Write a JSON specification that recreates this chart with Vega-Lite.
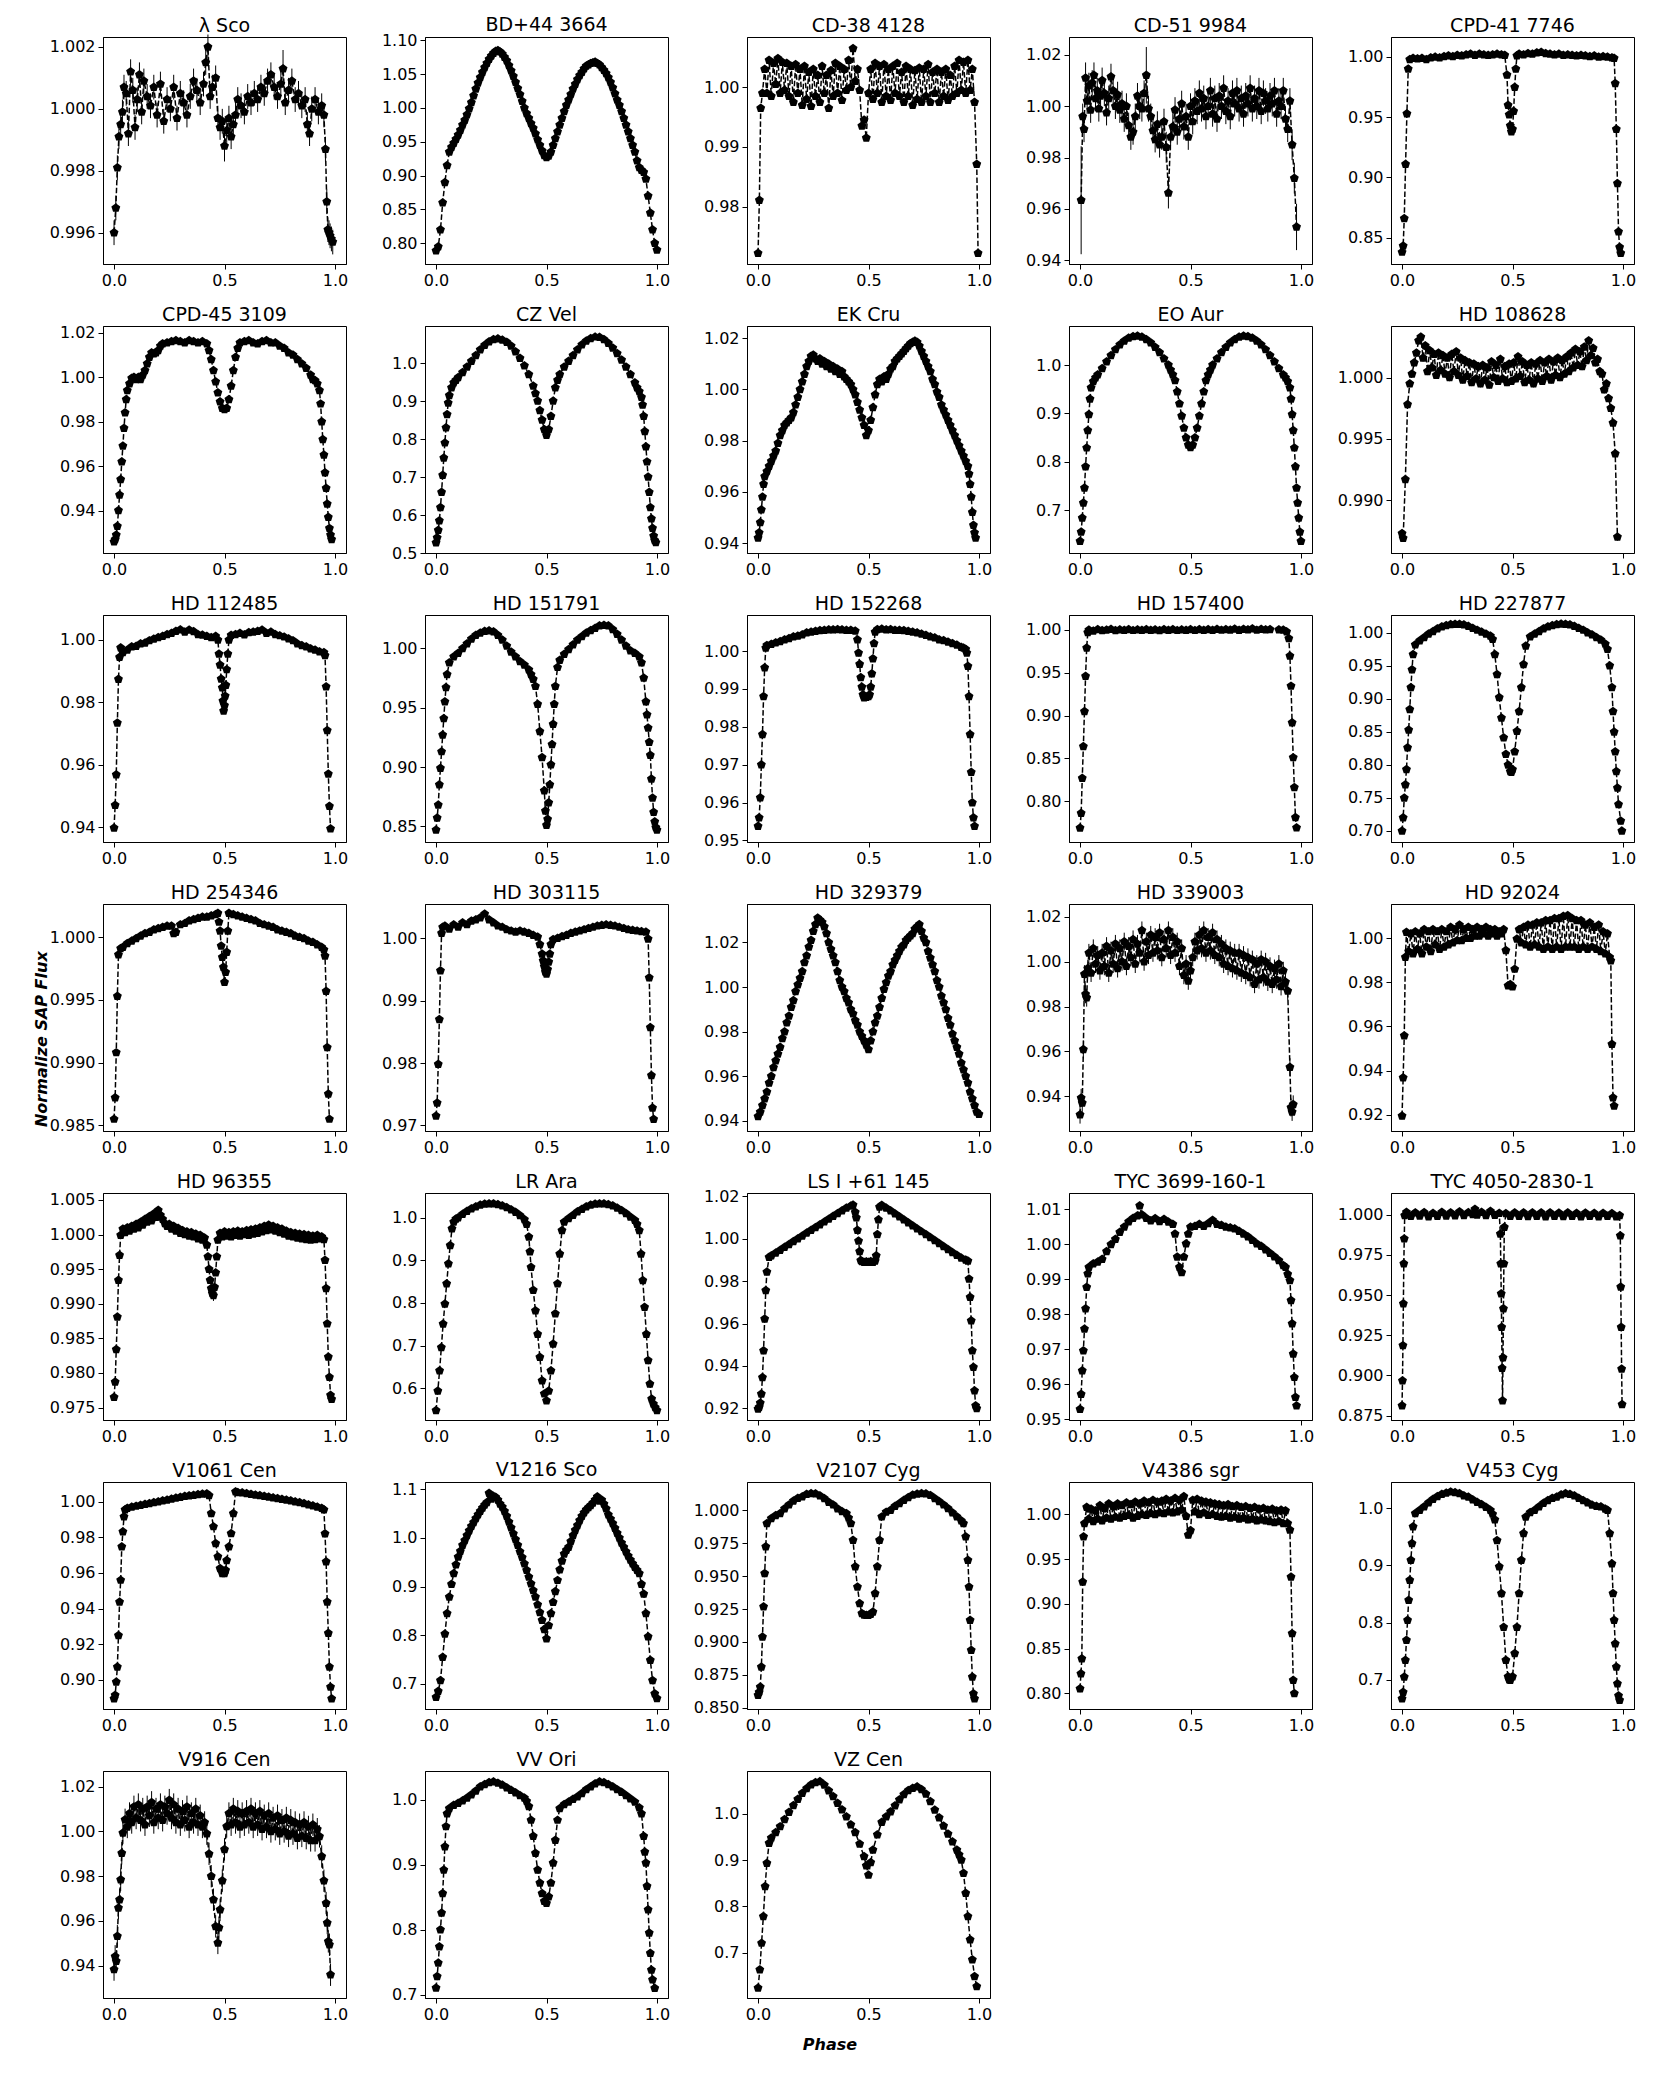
{
"$schema":"https://vega.github.io/schema/vega-lite/v6.json",
"background":"white",
"padding":{"left":33,"top":15,"right":5,"bottom":5},
"title":{"text":"Phase","orient":"bottom","anchor":"middle","fontSize":16,"fontWeight":"bold","fontStyle":"italic","offset":14,"baseline":"top","dx":-5},
"config":{
"font":"DejaVu Sans",
"view":{"stroke":"black","strokeWidth":1,"continuousWidth":243,"continuousHeight":227},
"axis":{"grid":false,"domainColor":"black","domainWidth":1,"tickColor":"black","tickSize":5,"tickWidth":1,"labelFont":"DejaVu Sans","labelFontSize":16,"labelColor":"black","labelPadding":3,"labelFlush":false,"labelOverlap":false},
"title":{"font":"DejaVu Sans","fontSize":19,"fontWeight":"normal","color":"black","offset":1,"baseline":"alphabetic"},
"mark":{"color":"black"},
"line":{"strokeDash":[5.5,2.4],"strokeWidth":1.5},
"point":{"shape":"M0,-1L0.951,-0.309L0.588,0.809L-0.588,0.809L-0.951,-0.309Z","filled":true,"size":88,"opacity":1}
},
"datasets":{
"d1":[{"x":0,"y":0.996,"e":0.0004},{"x":0.008,"y":0.9968,"e":0.0004},{"x":0.015,"y":0.9981,"e":0.0004},{"x":0.022,"y":0.9991,"e":0.0004},{"x":0.03,"y":0.9995,"e":0.0004},{"x":0.038,"y":0.9999,"e":0.0004},{"x":0.045,"y":1.0007,"e":0.0004},{"x":0.055,"y":1.0005,"e":0.0004},{"x":0.065,"y":0.9992,"e":0.0004},{"x":0.075,"y":1.0012,"e":0.0004},{"x":0.085,"y":1.0006,"e":0.0004},{"x":0.095,"y":0.9994,"e":0.0004},{"x":0.105,"y":1.0003,"e":0.0004},{"x":0.115,"y":1.0011,"e":0.0004},{"x":0.125,"y":0.9999,"e":0.0004},{"x":0.135,"y":1.0009,"e":0.0004},{"x":0.15,"y":1.0004,"e":0.0004},{"x":0.165,"y":1.0001,"e":0.0004},{"x":0.18,"y":1.0007,"e":0.0004},{"x":0.195,"y":0.9998,"e":0.0004},{"x":0.21,"y":1.0008,"e":0.0004},{"x":0.225,"y":0.9996,"e":0.0004},{"x":0.24,"y":1.0003,"e":0.0004},{"x":0.255,"y":1.0,"e":0.0004},{"x":0.27,"y":1.0007,"e":0.0004},{"x":0.285,"y":0.9997,"e":0.0004},{"x":0.3,"y":1.0005,"e":0.0004},{"x":0.315,"y":1.0002,"e":0.0004},{"x":0.33,"y":0.9998,"e":0.0004},{"x":0.345,"y":1.0004,"e":0.0004},{"x":0.36,"y":1.0009,"e":0.0004},{"x":0.375,"y":1.0006,"e":0.0004},{"x":0.39,"y":1.0002,"e":0.0004},{"x":0.405,"y":1.0008,"e":0.0004},{"x":0.415,"y":1.0015,"e":0.0004},{"x":0.425,"y":1.002,"e":0.0004},{"x":0.435,"y":1.0004,"e":0.0004},{"x":0.445,"y":1.0007,"e":0.0004},{"x":0.46,"y":1.001,"e":0.0004},{"x":0.47,"y":0.9997,"e":0.0004},{"x":0.48,"y":0.9994,"e":0.0004},{"x":0.49,"y":0.9996,"e":0.0004},{"x":0.5,"y":0.9988,"e":0.0005},{"x":0.51,"y":0.9993,"e":0.0004},{"x":0.52,"y":0.9997,"e":0.0004},{"x":0.53,"y":0.9991,"e":0.0004},{"x":0.54,"y":0.9995,"e":0.0004},{"x":0.55,"y":0.9998,"e":0.0004},{"x":0.56,"y":1.0003,"e":0.0004},{"x":0.575,"y":1.0001,"e":0.0004},{"x":0.59,"y":0.9999,"e":0.0004},{"x":0.605,"y":1.0004,"e":0.0004},{"x":0.62,"y":1.0002,"e":0.0004},{"x":0.635,"y":1.0005,"e":0.0004},{"x":0.65,"y":1.0003,"e":0.0004},{"x":0.665,"y":1.0007,"e":0.0004},{"x":0.68,"y":1.0005,"e":0.0004},{"x":0.695,"y":1.0009,"e":0.0004},{"x":0.71,"y":1.0011,"e":0.0004},{"x":0.725,"y":1.0007,"e":0.0004},{"x":0.74,"y":1.0004,"e":0.0004},{"x":0.755,"y":1.0008,"e":0.0004},{"x":0.765,"y":1.0013,"e":0.0006},{"x":0.775,"y":1.0002,"e":0.0004},{"x":0.79,"y":1.0006,"e":0.0004},{"x":0.805,"y":1.0009,"e":0.0004},{"x":0.82,"y":1.0003,"e":0.0004},{"x":0.835,"y":1.0005,"e":0.0004},{"x":0.85,"y":1.0001,"e":0.0004},{"x":0.865,"y":1.0003,"e":0.0004},{"x":0.875,"y":0.9995,"e":0.0004},{"x":0.885,"y":0.9992,"e":0.0004},{"x":0.895,"y":1.0,"e":0.0004},{"x":0.91,"y":1.0003,"e":0.0004},{"x":0.925,"y":0.9999,"e":0.0004},{"x":0.94,"y":1.0001,"e":0.0004},{"x":0.95,"y":0.9998,"e":0.0004},{"x":0.957,"y":0.9987,"e":0.0004},{"x":0.963,"y":0.997,"e":0.0004},{"x":0.968,"y":0.9961,"e":0.0004},{"x":0.973,"y":0.996,"e":0.0004},{"x":0.978,"y":0.9959,"e":0.0004},{"x":0.984,"y":0.9958,"e":0.0004},{"x":0.99,"y":0.9957,"e":0.0004}],
"d2":[{"x":0,"y":0.789},{"x":0.01,"y":0.795},{"x":0.02,"y":0.82},{"x":0.03,"y":0.86},{"x":0.04,"y":0.89},{"x":0.05,"y":0.915},{"x":0.06,"y":0.935},{"x":0.07,"y":0.942},{"x":0.08,"y":0.948},{"x":0.09,"y":0.954},{"x":0.1,"y":0.96},{"x":0.11,"y":0.967},{"x":0.12,"y":0.975},{"x":0.13,"y":0.982},{"x":0.14,"y":0.99},{"x":0.15,"y":0.999},{"x":0.16,"y":1.008},{"x":0.17,"y":1.018},{"x":0.18,"y":1.028},{"x":0.19,"y":1.037},{"x":0.2,"y":1.045},{"x":0.21,"y":1.053},{"x":0.22,"y":1.06},{"x":0.23,"y":1.066},{"x":0.24,"y":1.072},{"x":0.25,"y":1.077},{"x":0.26,"y":1.081},{"x":0.27,"y":1.084},{"x":0.28,"y":1.085},{"x":0.29,"y":1.083},{"x":0.3,"y":1.08},{"x":0.31,"y":1.075},{"x":0.32,"y":1.07},{"x":0.33,"y":1.063},{"x":0.34,"y":1.055},{"x":0.35,"y":1.047},{"x":0.36,"y":1.038},{"x":0.37,"y":1.029},{"x":0.38,"y":1.02},{"x":0.39,"y":1.01},{"x":0.4,"y":1.0},{"x":0.41,"y":0.992},{"x":0.42,"y":0.985},{"x":0.43,"y":0.977},{"x":0.44,"y":0.97},{"x":0.45,"y":0.962},{"x":0.46,"y":0.953},{"x":0.47,"y":0.945},{"x":0.48,"y":0.937},{"x":0.49,"y":0.93},{"x":0.5,"y":0.927},{"x":0.51,"y":0.929},{"x":0.52,"y":0.935},{"x":0.53,"y":0.945},{"x":0.54,"y":0.955},{"x":0.55,"y":0.965},{"x":0.56,"y":0.975},{"x":0.57,"y":0.985},{"x":0.58,"y":0.995},{"x":0.59,"y":1.004},{"x":0.6,"y":1.012},{"x":0.61,"y":1.02},{"x":0.62,"y":1.028},{"x":0.63,"y":1.035},{"x":0.64,"y":1.042},{"x":0.65,"y":1.048},{"x":0.66,"y":1.053},{"x":0.67,"y":1.058},{"x":0.68,"y":1.062},{"x":0.69,"y":1.064},{"x":0.7,"y":1.066},{"x":0.71,"y":1.067},{"x":0.72,"y":1.068},{"x":0.73,"y":1.066},{"x":0.74,"y":1.064},{"x":0.75,"y":1.06},{"x":0.76,"y":1.056},{"x":0.77,"y":1.051},{"x":0.78,"y":1.045},{"x":0.79,"y":1.038},{"x":0.8,"y":1.03},{"x":0.81,"y":1.021},{"x":0.82,"y":1.012},{"x":0.83,"y":1.004},{"x":0.84,"y":0.995},{"x":0.85,"y":0.985},{"x":0.86,"y":0.975},{"x":0.87,"y":0.965},{"x":0.88,"y":0.955},{"x":0.89,"y":0.945},{"x":0.9,"y":0.935},{"x":0.91,"y":0.922},{"x":0.92,"y":0.912},{"x":0.93,"y":0.908},{"x":0.94,"y":0.905},{"x":0.95,"y":0.895},{"x":0.96,"y":0.87},{"x":0.97,"y":0.845},{"x":0.98,"y":0.82},{"x":0.99,"y":0.8},{"x":1.0,"y":0.79}],
"d3":[{"x":0,"y":0.9722,"e":0.0004},{"x":0.006,"y":0.9811,"e":0.0004},{"x":0.012,"y":0.9965,"e":0.0004},{"x":0.02,"y":0.999,"e":0.0004},{"x":0.03,"y":1.003,"e":0.0004},{"x":0.04,"y":0.999,"e":0.0004},{"x":0.05,"y":1.0045,"e":0.0004},{"x":0.06,"y":0.9985,"e":0.0004},{"x":0.07,"y":1.004,"e":0.0004},{"x":0.08,"y":1.0005,"e":0.0004},{"x":0.09,"y":1.0048,"e":0.0004},{"x":0.1,"y":0.999,"e":0.0004},{"x":0.11,"y":1.0042,"e":0.0004},{"x":0.12,"y":0.9995,"e":0.0004},{"x":0.13,"y":1.004,"e":0.0004},{"x":0.14,"y":0.9985,"e":0.0004},{"x":0.15,"y":1.0035,"e":0.0004},{"x":0.16,"y":0.9975,"e":0.0004},{"x":0.17,"y":1.0038,"e":0.0004},{"x":0.18,"y":0.999,"e":0.0004},{"x":0.19,"y":1.003,"e":0.0004},{"x":0.2,"y":0.997,"e":0.0004},{"x":0.21,"y":1.0035,"e":0.0004},{"x":0.22,"y":0.998,"e":0.0004},{"x":0.23,"y":1.0025,"e":0.0004},{"x":0.24,"y":0.9968,"e":0.0004},{"x":0.25,"y":1.003,"e":0.0004},{"x":0.26,"y":0.9985,"e":0.0004},{"x":0.27,"y":1.002,"e":0.0004},{"x":0.28,"y":0.9975,"e":0.0004},{"x":0.29,"y":1.0035,"e":0.0004},{"x":0.3,"y":0.999,"e":0.0004},{"x":0.31,"y":1.002,"e":0.0004},{"x":0.32,"y":0.9965,"e":0.0004},{"x":0.33,"y":1.0028,"e":0.0004},{"x":0.34,"y":0.9985,"e":0.0004},{"x":0.35,"y":1.004,"e":0.0004},{"x":0.36,"y":0.999,"e":0.0004},{"x":0.37,"y":1.0035,"e":0.0004},{"x":0.38,"y":0.9978,"e":0.0004},{"x":0.39,"y":1.003,"e":0.0004},{"x":0.4,"y":0.9995,"e":0.0004},{"x":0.41,"y":1.0045,"e":0.0004},{"x":0.42,"y":1.0,"e":0.0004},{"x":0.43,"y":1.0065,"e":0.0004},{"x":0.44,"y":1.001,"e":0.0004},{"x":0.45,"y":1.003,"e":0.0004},{"x":0.46,"y":0.9995,"e":0.0004},{"x":0.47,"y":0.9935,"e":0.0004},{"x":0.48,"y":0.9945,"e":0.0004},{"x":0.49,"y":0.9915,"e":0.0004},{"x":0.5,"y":0.999,"e":0.0004},{"x":0.51,"y":1.003,"e":0.0004},{"x":0.52,"y":0.998,"e":0.0004},{"x":0.53,"y":1.004,"e":0.0004},{"x":0.54,"y":0.999,"e":0.0004},{"x":0.55,"y":1.0035,"e":0.0004},{"x":0.56,"y":0.9975,"e":0.0004},{"x":0.57,"y":1.0038,"e":0.0004},{"x":0.58,"y":0.9985,"e":0.0004},{"x":0.59,"y":1.003,"e":0.0004},{"x":0.6,"y":0.9978,"e":0.0004},{"x":0.61,"y":1.0035,"e":0.0004},{"x":0.62,"y":0.999,"e":0.0004},{"x":0.63,"y":1.004,"e":0.0004},{"x":0.64,"y":0.9985,"e":0.0004},{"x":0.65,"y":1.0025,"e":0.0004},{"x":0.66,"y":0.9975,"e":0.0004},{"x":0.67,"y":1.0035,"e":0.0004},{"x":0.68,"y":0.9985,"e":0.0004},{"x":0.69,"y":1.003,"e":0.0004},{"x":0.7,"y":0.997,"e":0.0004},{"x":0.71,"y":1.0028,"e":0.0004},{"x":0.72,"y":0.998,"e":0.0004},{"x":0.73,"y":1.0032,"e":0.0004},{"x":0.74,"y":0.9975,"e":0.0004},{"x":0.75,"y":1.003,"e":0.0004},{"x":0.76,"y":0.9985,"e":0.0004},{"x":0.77,"y":1.0038,"e":0.0004},{"x":0.78,"y":0.9975,"e":0.0004},{"x":0.79,"y":1.0025,"e":0.0004},{"x":0.8,"y":0.999,"e":0.0004},{"x":0.81,"y":1.003,"e":0.0004},{"x":0.82,"y":0.9975,"e":0.0004},{"x":0.83,"y":1.0025,"e":0.0004},{"x":0.84,"y":0.9985,"e":0.0004},{"x":0.85,"y":1.003,"e":0.0004},{"x":0.86,"y":0.9978,"e":0.0004},{"x":0.87,"y":1.002,"e":0.0004},{"x":0.88,"y":0.9985,"e":0.0004},{"x":0.89,"y":1.0035,"e":0.0004},{"x":0.9,"y":0.999,"e":0.0004},{"x":0.91,"y":1.0045,"e":0.0004},{"x":0.92,"y":0.9995,"e":0.0004},{"x":0.93,"y":1.0042,"e":0.0004},{"x":0.94,"y":0.999,"e":0.0004},{"x":0.95,"y":1.0045,"e":0.0004},{"x":0.96,"y":0.9995,"e":0.0004},{"x":0.97,"y":1.003,"e":0.0004},{"x":0.98,"y":0.9975,"e":0.0004},{"x":0.99,"y":0.9871,"e":0.0004},{"x":0.996,"y":0.9722,"e":0.0004}],
"d4":[{"x":0.005,"y":0.9634,"e":0.021},{"x":0.012,"y":0.996,"e":0.005},{"x":0.018,"y":0.991,"e":0.005},{"x":0.025,"y":1.011,"e":0.006},{"x":0.032,"y":1.002,"e":0.005},{"x":0.04,"y":1.008,"e":0.005},{"x":0.048,"y":0.9985,"e":0.005},{"x":0.055,"y":1.009,"e":0.005},{"x":0.063,"y":1.012,"e":0.005},{"x":0.07,"y":1.003,"e":0.005},{"x":0.078,"y":1.006,"e":0.005},{"x":0.085,"y":0.999,"e":0.005},{"x":0.093,"y":1.004,"e":0.005},{"x":0.1,"y":1.01,"e":0.005},{"x":0.11,"y":1.005,"e":0.005},{"x":0.12,"y":0.9975,"e":0.005},{"x":0.13,"y":1.003,"e":0.005},{"x":0.14,"y":1.0115,"e":0.005},{"x":0.15,"y":1.006,"e":0.005},{"x":0.16,"y":1.0,"e":0.005},{"x":0.17,"y":1.0045,"e":0.005},{"x":0.18,"y":0.9985,"e":0.005},{"x":0.19,"y":1.001,"e":0.005},{"x":0.2,"y":0.995,"e":0.005},{"x":0.21,"y":1.0,"e":0.005},{"x":0.22,"y":0.9925,"e":0.005},{"x":0.23,"y":0.988,"e":0.005},{"x":0.24,"y":0.99,"e":0.005},{"x":0.25,"y":0.996,"e":0.005},{"x":0.26,"y":1.004,"e":0.005},{"x":0.27,"y":1.0,"e":0.005},{"x":0.28,"y":0.999,"e":0.005},{"x":0.29,"y":1.005,"e":0.005},{"x":0.3,"y":1.012,"e":0.011},{"x":0.31,"y":0.999,"e":0.005},{"x":0.32,"y":0.996,"e":0.005},{"x":0.33,"y":0.9905,"e":0.005},{"x":0.34,"y":0.987,"e":0.005},{"x":0.35,"y":0.993,"e":0.005},{"x":0.36,"y":0.985,"e":0.005},{"x":0.37,"y":0.988,"e":0.005},{"x":0.38,"y":0.994,"e":0.005},{"x":0.39,"y":0.984,"e":0.006},{"x":0.4,"y":0.9662,"e":0.006},{"x":0.41,"y":0.988,"e":0.005},{"x":0.42,"y":0.992,"e":0.005},{"x":0.43,"y":0.9985,"e":0.005},{"x":0.44,"y":0.99,"e":0.005},{"x":0.45,"y":0.995,"e":0.005},{"x":0.46,"y":1.001,"e":0.005},{"x":0.47,"y":0.992,"e":0.005},{"x":0.48,"y":0.996,"e":0.005},{"x":0.49,"y":0.988,"e":0.005},{"x":0.5,"y":1.0,"e":0.005},{"x":0.51,"y":0.994,"e":0.005},{"x":0.52,"y":1.002,"e":0.005},{"x":0.53,"y":0.998,"e":0.005},{"x":0.54,"y":1.005,"e":0.005},{"x":0.55,"y":0.999,"e":0.005},{"x":0.56,"y":1.003,"e":0.005},{"x":0.57,"y":0.996,"e":0.005},{"x":0.58,"y":1.0,"e":0.005},{"x":0.59,"y":1.006,"e":0.005},{"x":0.6,"y":0.997,"e":0.005},{"x":0.61,"y":1.003,"e":0.005},{"x":0.62,"y":0.995,"e":0.005},{"x":0.63,"y":1.004,"e":0.005},{"x":0.64,"y":1.0,"e":0.005},{"x":0.65,"y":1.007,"e":0.005},{"x":0.66,"y":0.998,"e":0.005},{"x":0.67,"y":1.002,"e":0.005},{"x":0.68,"y":0.996,"e":0.005},{"x":0.69,"y":1.005,"e":0.005},{"x":0.7,"y":1.001,"e":0.005},{"x":0.71,"y":1.006,"e":0.005},{"x":0.72,"y":0.999,"e":0.005},{"x":0.73,"y":1.003,"e":0.005},{"x":0.74,"y":0.997,"e":0.005},{"x":0.75,"y":1.004,"e":0.005},{"x":0.76,"y":1.001,"e":0.005},{"x":0.77,"y":1.007,"e":0.005},{"x":0.78,"y":0.999,"e":0.005},{"x":0.79,"y":1.003,"e":0.005},{"x":0.8,"y":1.0,"e":0.005},{"x":0.81,"y":1.006,"e":0.005},{"x":0.82,"y":0.998,"e":0.005},{"x":0.83,"y":1.005,"e":0.005},{"x":0.84,"y":1.002,"e":0.005},{"x":0.85,"y":0.999,"e":0.005},{"x":0.86,"y":1.004,"e":0.005},{"x":0.87,"y":1.001,"e":0.005},{"x":0.88,"y":1.006,"e":0.005},{"x":0.89,"y":0.997,"e":0.005},{"x":0.9,"y":1.002,"e":0.005},{"x":0.91,"y":1.0,"e":0.005},{"x":0.92,"y":1.006,"e":0.005},{"x":0.93,"y":0.995,"e":0.005},{"x":0.94,"y":0.991,"e":0.005},{"x":0.95,"y":1.002,"e":0.005},{"x":0.96,"y":0.985,"e":0.006},{"x":0.97,"y":0.972,"e":0.006},{"x":0.98,"y":0.953,"e":0.009}],
"d5":[{"x":0,"y":0.838},{"x":0.005,"y":0.843},{"x":0.01,"y":0.866},{"x":0.016,"y":0.911},{"x":0.022,"y":0.953},{"x":0.028,"y":0.99},{"x":0.035,"y":0.998},{"x":0.05,"y":0.999},{"x":0.07,"y":0.9985},{"x":0.09,"y":0.999},{"x":0.11,"y":0.998},{"x":0.13,"y":0.9995},{"x":0.15,"y":1.0},{"x":0.17,"y":0.9995},{"x":0.19,"y":1.0005},{"x":0.21,"y":1.001},{"x":0.23,"y":1.0005},{"x":0.25,"y":1.0015},{"x":0.27,"y":1.001},{"x":0.29,"y":1.002},{"x":0.31,"y":1.0025},{"x":0.33,"y":1.0015},{"x":0.35,"y":1.0025},{"x":0.37,"y":1.002},{"x":0.39,"y":1.0015},{"x":0.41,"y":1.002},{"x":0.43,"y":1.0025},{"x":0.45,"y":1.002},{"x":0.465,"y":1.0015},{"x":0.475,"y":0.985},{"x":0.48,"y":0.96},{"x":0.485,"y":0.952},{"x":0.49,"y":0.943},{"x":0.495,"y":0.938},{"x":0.5,"y":0.94},{"x":0.505,"y":0.955},{"x":0.51,"y":0.975},{"x":0.515,"y":0.99},{"x":0.52,"y":1.001},{"x":0.53,"y":1.0025},{"x":0.55,"y":1.002},{"x":0.57,"y":1.003},{"x":0.59,"y":1.0025},{"x":0.61,"y":1.0035},{"x":0.63,"y":1.004},{"x":0.65,"y":1.003},{"x":0.67,"y":1.0025},{"x":0.69,"y":1.002},{"x":0.71,"y":1.0025},{"x":0.73,"y":1.0015},{"x":0.75,"y":1.002},{"x":0.77,"y":1.0015},{"x":0.79,"y":1.001},{"x":0.81,"y":1.0015},{"x":0.83,"y":1.001},{"x":0.85,"y":1.0005},{"x":0.87,"y":1.001},{"x":0.89,"y":1.0},{"x":0.91,"y":1.0005},{"x":0.93,"y":1.0},{"x":0.95,"y":0.9995},{"x":0.96,"y":0.999},{"x":0.965,"y":0.978},{"x":0.97,"y":0.94},{"x":0.975,"y":0.895},{"x":0.98,"y":0.855},{"x":0.985,"y":0.842},{"x":0.99,"y":0.837}],
"d6":[{"x":0,"y":0.926},{"x":0.005,"y":0.927},{"x":0.01,"y":0.929},{"x":0.015,"y":0.933},{"x":0.02,"y":0.94},{"x":0.025,"y":0.947},{"x":0.03,"y":0.954},{"x":0.035,"y":0.962},{"x":0.04,"y":0.969},{"x":0.045,"y":0.977},{"x":0.05,"y":0.984},{"x":0.055,"y":0.99},{"x":0.06,"y":0.994},{"x":0.07,"y":0.997},{"x":0.08,"y":0.9995},{"x":0.09,"y":1.0},{"x":0.1,"y":0.999},{"x":0.11,"y":1.0},{"x":0.12,"y":0.999},{"x":0.13,"y":1.001},{"x":0.14,"y":1.003},{"x":0.15,"y":1.006},{"x":0.16,"y":1.009},{"x":0.17,"y":1.011},{"x":0.18,"y":1.0105},{"x":0.19,"y":1.011},{"x":0.2,"y":1.012},{"x":0.21,"y":1.014},{"x":0.22,"y":1.015},{"x":0.24,"y":1.0155},{"x":0.26,"y":1.016},{"x":0.28,"y":1.0165},{"x":0.3,"y":1.016},{"x":0.32,"y":1.0155},{"x":0.34,"y":1.0165},{"x":0.36,"y":1.016},{"x":0.38,"y":1.0155},{"x":0.4,"y":1.016},{"x":0.42,"y":1.015},{"x":0.43,"y":1.012},{"x":0.44,"y":1.008},{"x":0.45,"y":1.003},{"x":0.46,"y":0.998},{"x":0.47,"y":0.993},{"x":0.48,"y":0.989},{"x":0.49,"y":0.986},{"x":0.5,"y":0.9855},{"x":0.51,"y":0.986},{"x":0.52,"y":0.99},{"x":0.53,"y":0.996},{"x":0.54,"y":1.003},{"x":0.55,"y":1.009},{"x":0.56,"y":1.013},{"x":0.57,"y":1.0155},{"x":0.59,"y":1.016},{"x":0.61,"y":1.0165},{"x":0.63,"y":1.0155},{"x":0.65,"y":1.015},{"x":0.67,"y":1.016},{"x":0.69,"y":1.0165},{"x":0.71,"y":1.0155},{"x":0.73,"y":1.0155},{"x":0.75,"y":1.014},{"x":0.77,"y":1.013},{"x":0.79,"y":1.011},{"x":0.81,"y":1.01},{"x":0.83,"y":1.008},{"x":0.85,"y":1.006},{"x":0.87,"y":1.004},{"x":0.89,"y":1.001},{"x":0.9,"y":0.999},{"x":0.91,"y":0.9985},{"x":0.92,"y":0.997},{"x":0.93,"y":0.994},{"x":0.935,"y":0.988},{"x":0.94,"y":0.98},{"x":0.945,"y":0.972},{"x":0.95,"y":0.965},{"x":0.955,"y":0.957},{"x":0.96,"y":0.95},{"x":0.965,"y":0.943},{"x":0.97,"y":0.937},{"x":0.975,"y":0.932},{"x":0.98,"y":0.929},{"x":0.985,"y":0.927}],
"d7":[{"x":0,"y":0.527},{"x":0.005,"y":0.54},{"x":0.01,"y":0.56},{"x":0.015,"y":0.585},{"x":0.02,"y":0.62},{"x":0.025,"y":0.66},{"x":0.03,"y":0.705},{"x":0.035,"y":0.75},{"x":0.04,"y":0.79},{"x":0.045,"y":0.83},{"x":0.05,"y":0.865},{"x":0.055,"y":0.895},{"x":0.06,"y":0.915},{"x":0.07,"y":0.935},{"x":0.08,"y":0.948},{"x":0.09,"y":0.955},{"x":0.1,"y":0.962},{"x":0.12,"y":0.975},{"x":0.14,"y":0.99},{"x":0.16,"y":1.005},{"x":0.18,"y":1.02},{"x":0.2,"y":1.035},{"x":0.22,"y":1.047},{"x":0.24,"y":1.056},{"x":0.26,"y":1.062},{"x":0.28,"y":1.064},{"x":0.3,"y":1.061},{"x":0.32,"y":1.055},{"x":0.34,"y":1.045},{"x":0.36,"y":1.03},{"x":0.38,"y":1.013},{"x":0.4,"y":0.993},{"x":0.42,"y":0.97},{"x":0.44,"y":0.94},{"x":0.45,"y":0.92},{"x":0.46,"y":0.9},{"x":0.47,"y":0.875},{"x":0.48,"y":0.85},{"x":0.49,"y":0.825},{"x":0.5,"y":0.81},{"x":0.51,"y":0.825},{"x":0.52,"y":0.86},{"x":0.53,"y":0.9},{"x":0.54,"y":0.935},{"x":0.55,"y":0.955},{"x":0.56,"y":0.97},{"x":0.58,"y":0.99},{"x":0.6,"y":1.005},{"x":0.62,"y":1.02},{"x":0.64,"y":1.035},{"x":0.66,"y":1.048},{"x":0.68,"y":1.058},{"x":0.7,"y":1.065},{"x":0.72,"y":1.069},{"x":0.74,"y":1.068},{"x":0.76,"y":1.062},{"x":0.78,"y":1.052},{"x":0.8,"y":1.04},{"x":0.82,"y":1.025},{"x":0.84,"y":1.008},{"x":0.86,"y":0.99},{"x":0.88,"y":0.97},{"x":0.9,"y":0.948},{"x":0.91,"y":0.935},{"x":0.92,"y":0.925},{"x":0.93,"y":0.91},{"x":0.935,"y":0.89},{"x":0.94,"y":0.86},{"x":0.945,"y":0.82},{"x":0.95,"y":0.78},{"x":0.955,"y":0.74},{"x":0.96,"y":0.7},{"x":0.965,"y":0.66},{"x":0.97,"y":0.62},{"x":0.975,"y":0.59},{"x":0.98,"y":0.565},{"x":0.985,"y":0.545},{"x":0.99,"y":0.533},{"x":0.995,"y":0.528}],
"d8":[{"x":0,"y":0.942},{"x":0.005,"y":0.944},{"x":0.01,"y":0.948},{"x":0.015,"y":0.953},{"x":0.02,"y":0.958},{"x":0.025,"y":0.963},{"x":0.03,"y":0.966},{"x":0.04,"y":0.968},{"x":0.05,"y":0.97},{"x":0.06,"y":0.972},{"x":0.07,"y":0.974},{"x":0.08,"y":0.976},{"x":0.09,"y":0.979},{"x":0.1,"y":0.982},{"x":0.11,"y":0.984},{"x":0.12,"y":0.986},{"x":0.13,"y":0.987},{"x":0.14,"y":0.988},{"x":0.15,"y":0.989},{"x":0.16,"y":0.991},{"x":0.17,"y":0.994},{"x":0.18,"y":0.997},{"x":0.19,"y":1.0},{"x":0.2,"y":1.003},{"x":0.21,"y":1.006},{"x":0.22,"y":1.009},{"x":0.23,"y":1.011},{"x":0.24,"y":1.013},{"x":0.25,"y":1.0135},{"x":0.26,"y":1.012},{"x":0.27,"y":1.011},{"x":0.28,"y":1.012},{"x":0.29,"y":1.01},{"x":0.3,"y":1.011},{"x":0.31,"y":1.009},{"x":0.32,"y":1.01},{"x":0.33,"y":1.008},{"x":0.34,"y":1.009},{"x":0.35,"y":1.007},{"x":0.36,"y":1.008},{"x":0.37,"y":1.006},{"x":0.38,"y":1.007},{"x":0.39,"y":1.005},{"x":0.4,"y":1.004},{"x":0.41,"y":1.003},{"x":0.42,"y":1.002},{"x":0.43,"y":1.0},{"x":0.44,"y":0.998},{"x":0.45,"y":0.995},{"x":0.46,"y":0.992},{"x":0.47,"y":0.989},{"x":0.48,"y":0.986},{"x":0.49,"y":0.982},{"x":0.5,"y":0.984},{"x":0.51,"y":0.988},{"x":0.52,"y":0.993},{"x":0.53,"y":0.998},{"x":0.54,"y":1.002},{"x":0.55,"y":1.004},{"x":0.56,"y":1.003},{"x":0.57,"y":1.005},{"x":0.58,"y":1.004},{"x":0.59,"y":1.006},{"x":0.6,"y":1.008},{"x":0.61,"y":1.009},{"x":0.62,"y":1.011},{"x":0.63,"y":1.012},{"x":0.64,"y":1.013},{"x":0.65,"y":1.014},{"x":0.66,"y":1.015},{"x":0.67,"y":1.016},{"x":0.68,"y":1.017},{"x":0.69,"y":1.018},{"x":0.7,"y":1.0185},{"x":0.71,"y":1.019},{"x":0.72,"y":1.0185},{"x":0.73,"y":1.017},{"x":0.74,"y":1.015},{"x":0.75,"y":1.013},{"x":0.76,"y":1.011},{"x":0.77,"y":1.009},{"x":0.78,"y":1.007},{"x":0.79,"y":1.004},{"x":0.8,"y":1.002},{"x":0.81,"y":0.999},{"x":0.82,"y":0.997},{"x":0.83,"y":0.994},{"x":0.84,"y":0.992},{"x":0.85,"y":0.99},{"x":0.86,"y":0.988},{"x":0.87,"y":0.986},{"x":0.88,"y":0.984},{"x":0.89,"y":0.982},{"x":0.9,"y":0.98},{"x":0.91,"y":0.978},{"x":0.92,"y":0.976},{"x":0.93,"y":0.974},{"x":0.94,"y":0.972},{"x":0.95,"y":0.97},{"x":0.955,"y":0.967},{"x":0.96,"y":0.963},{"x":0.965,"y":0.958},{"x":0.97,"y":0.952},{"x":0.975,"y":0.947},{"x":0.98,"y":0.944},{"x":0.985,"y":0.942}],
"d9":[{"x":0,"y":0.636},{"x":0.005,"y":0.655},{"x":0.01,"y":0.684},{"x":0.015,"y":0.715},{"x":0.02,"y":0.746},{"x":0.025,"y":0.79},{"x":0.03,"y":0.829},{"x":0.035,"y":0.865},{"x":0.04,"y":0.898},{"x":0.045,"y":0.93},{"x":0.05,"y":0.953},{"x":0.06,"y":0.966},{"x":0.07,"y":0.974},{"x":0.08,"y":0.98},{"x":0.1,"y":0.993},{"x":0.12,"y":1.007},{"x":0.14,"y":1.02},{"x":0.16,"y":1.032},{"x":0.18,"y":1.042},{"x":0.2,"y":1.05},{"x":0.22,"y":1.056},{"x":0.24,"y":1.059},{"x":0.26,"y":1.06},{"x":0.28,"y":1.058},{"x":0.3,"y":1.053},{"x":0.32,"y":1.046},{"x":0.34,"y":1.037},{"x":0.36,"y":1.026},{"x":0.38,"y":1.013},{"x":0.4,"y":1.0},{"x":0.41,"y":0.99},{"x":0.42,"y":0.98},{"x":0.43,"y":0.968},{"x":0.44,"y":0.945},{"x":0.45,"y":0.92},{"x":0.46,"y":0.895},{"x":0.47,"y":0.87},{"x":0.48,"y":0.85},{"x":0.49,"y":0.835},{"x":0.5,"y":0.83},{"x":0.51,"y":0.835},{"x":0.52,"y":0.85},{"x":0.53,"y":0.87},{"x":0.54,"y":0.895},{"x":0.55,"y":0.92},{"x":0.56,"y":0.945},{"x":0.57,"y":0.968},{"x":0.58,"y":0.98},{"x":0.59,"y":0.99},{"x":0.6,"y":1.0},{"x":0.62,"y":1.013},{"x":0.64,"y":1.026},{"x":0.66,"y":1.037},{"x":0.68,"y":1.046},{"x":0.7,"y":1.053},{"x":0.72,"y":1.058},{"x":0.74,"y":1.06},{"x":0.76,"y":1.059},{"x":0.78,"y":1.056},{"x":0.8,"y":1.05},{"x":0.82,"y":1.042},{"x":0.84,"y":1.032},{"x":0.86,"y":1.02},{"x":0.88,"y":1.007},{"x":0.9,"y":0.993},{"x":0.92,"y":0.98},{"x":0.93,"y":0.974},{"x":0.94,"y":0.966},{"x":0.95,"y":0.953},{"x":0.955,"y":0.93},{"x":0.96,"y":0.898},{"x":0.965,"y":0.865},{"x":0.97,"y":0.829},{"x":0.975,"y":0.79},{"x":0.98,"y":0.746},{"x":0.985,"y":0.715},{"x":0.99,"y":0.684},{"x":0.995,"y":0.655},{"x":1.0,"y":0.636}],
"d10":[{"x":0,"y":0.9873,"e":0.0003},{"x":0.005,"y":0.9869,"e":0.0003},{"x":0.015,"y":0.9917,"e":0.0003},{"x":0.025,"y":0.9978,"e":0.0003},{"x":0.035,"y":0.9995,"e":0.0003},{"x":0.045,"y":1.0003,"e":0.0003},{"x":0.055,"y":1.0012,"e":0.0003},{"x":0.065,"y":1.002,"e":0.0003},{"x":0.075,"y":1.003,"e":0.0003},{"x":0.085,"y":1.0033,"e":0.0003},{"x":0.095,"y":1.0016,"e":0.0003},{"x":0.105,"y":1.0026,"e":0.0003},{"x":0.115,"y":1.0005,"e":0.0003},{"x":0.125,"y":1.0022,"e":0.0003},{"x":0.135,"y":1.0008,"e":0.0003},{"x":0.145,"y":1.0019,"e":0.0003},{"x":0.155,"y":1.0002,"e":0.0003},{"x":0.165,"y":1.002,"e":0.0003},{"x":0.175,"y":1.0006,"e":0.0003},{"x":0.185,"y":1.0018,"e":0.0003},{"x":0.195,"y":1.0003,"e":0.0003},{"x":0.205,"y":1.0016,"e":0.0003},{"x":0.215,"y":1.0,"e":0.0003},{"x":0.225,"y":1.0019,"e":0.0003},{"x":0.235,"y":1.0005,"e":0.0003},{"x":0.245,"y":1.0021,"e":0.0003},{"x":0.255,"y":1.0002,"e":0.0003},{"x":0.265,"y":1.0016,"e":0.0003},{"x":0.275,"y":0.9998,"e":0.0003},{"x":0.285,"y":1.0014,"e":0.0003},{"x":0.295,"y":1.0001,"e":0.0003},{"x":0.305,"y":1.0012,"e":0.0003},{"x":0.315,"y":0.9996,"e":0.0003},{"x":0.325,"y":1.0011,"e":0.0003},{"x":0.335,"y":0.9999,"e":0.0003},{"x":0.345,"y":1.0009,"e":0.0003},{"x":0.355,"y":0.9995,"e":0.0003},{"x":0.365,"y":1.001,"e":0.0003},{"x":0.375,"y":0.9998,"e":0.0003},{"x":0.385,"y":1.0008,"e":0.0003},{"x":0.395,"y":0.9994,"e":0.0003},{"x":0.405,"y":1.0013,"e":0.0003},{"x":0.415,"y":1.0,"e":0.0003},{"x":0.425,"y":1.001,"e":0.0003},{"x":0.435,"y":0.9997,"e":0.0003},{"x":0.445,"y":1.0015,"e":0.0003},{"x":0.455,"y":0.9999,"e":0.0003},{"x":0.465,"y":1.0009,"e":0.0003},{"x":0.475,"y":0.9996,"e":0.0003},{"x":0.485,"y":1.0011,"e":0.0003},{"x":0.495,"y":0.9997,"e":0.0003},{"x":0.505,"y":1.0012,"e":0.0003},{"x":0.515,"y":0.9999,"e":0.0003},{"x":0.525,"y":1.0017,"e":0.0003},{"x":0.535,"y":1.0001,"e":0.0003},{"x":0.545,"y":1.0013,"e":0.0003},{"x":0.555,"y":0.9996,"e":0.0003},{"x":0.565,"y":1.001,"e":0.0003},{"x":0.575,"y":0.9998,"e":0.0003},{"x":0.585,"y":1.0012,"e":0.0003},{"x":0.595,"y":0.9995,"e":0.0003},{"x":0.605,"y":1.0011,"e":0.0003},{"x":0.615,"y":0.9999,"e":0.0003},{"x":0.625,"y":1.0014,"e":0.0003},{"x":0.635,"y":0.9997,"e":0.0003},{"x":0.645,"y":1.0012,"e":0.0003},{"x":0.655,"y":1.0001,"e":0.0003},{"x":0.665,"y":1.0015,"e":0.0003},{"x":0.675,"y":0.9998,"e":0.0003},{"x":0.685,"y":1.0013,"e":0.0003},{"x":0.695,"y":1.0002,"e":0.0003},{"x":0.705,"y":1.0016,"e":0.0003},{"x":0.715,"y":1.0,"e":0.0003},{"x":0.725,"y":1.0014,"e":0.0003},{"x":0.735,"y":1.0003,"e":0.0003},{"x":0.745,"y":1.0017,"e":0.0003},{"x":0.755,"y":1.0005,"e":0.0003},{"x":0.765,"y":1.002,"e":0.0003},{"x":0.775,"y":1.0008,"e":0.0003},{"x":0.785,"y":1.0023,"e":0.0003},{"x":0.795,"y":1.001,"e":0.0003},{"x":0.805,"y":1.0021,"e":0.0003},{"x":0.815,"y":1.0009,"e":0.0003},{"x":0.825,"y":1.0025,"e":0.0003},{"x":0.835,"y":1.0014,"e":0.0003},{"x":0.845,"y":1.003,"e":0.0003},{"x":0.855,"y":1.0018,"e":0.0003},{"x":0.865,"y":1.0024,"e":0.0003},{"x":0.875,"y":1.0012,"e":0.0003},{"x":0.885,"y":1.0015,"e":0.0003},{"x":0.895,"y":1.0005,"e":0.0003},{"x":0.905,"y":1.0003,"e":0.0003},{"x":0.915,"y":0.999,"e":0.0003},{"x":0.925,"y":0.9995,"e":0.0003},{"x":0.935,"y":0.9983,"e":0.0003},{"x":0.945,"y":0.9975,"e":0.0003},{"x":0.955,"y":0.9963,"e":0.0003},{"x":0.965,"y":0.9938,"e":0.0003},{"x":0.975,"y":0.987,"e":0.0003}],
"d11":[{"x":0,"y":0.9397},{"x":0.005,"y":0.947},{"x":0.01,"y":0.9568},{"x":0.015,"y":0.9734},{"x":0.02,"y":0.9874},{"x":0.025,"y":0.9945},{"x":0.03,"y":0.9975},{"x":0.04,"y":0.996},{"x":0.06,"y":0.9968},{"x":0.08,"y":0.9978},{"x":0.1,"y":0.998},{"x":0.12,"y":0.9988},{"x":0.14,"y":0.999},{"x":0.16,"y":0.9998},{"x":0.18,"y":1.0003},{"x":0.2,"y":1.0008},{"x":0.22,"y":1.0012},{"x":0.24,"y":1.0018},{"x":0.26,"y":1.0022},{"x":0.28,"y":1.0028},{"x":0.3,"y":1.0033},{"x":0.32,"y":1.0026},{"x":0.34,"y":1.0032},{"x":0.36,"y":1.0027},{"x":0.38,"y":1.0018},{"x":0.4,"y":1.0016},{"x":0.42,"y":1.0012},{"x":0.44,"y":1.0008},{"x":0.46,"y":1.0012},{"x":0.47,"y":1.0},{"x":0.475,"y":0.9955},{"x":0.48,"y":0.992},{"x":0.485,"y":0.9875},{"x":0.49,"y":0.9847},{"x":0.493,"y":0.9804},{"x":0.496,"y":0.9772},{"x":0.5,"y":0.979},{"x":0.503,"y":0.982},{"x":0.506,"y":0.9855},{"x":0.51,"y":0.9905},{"x":0.515,"y":0.9955},{"x":0.52,"y":1.0},{"x":0.53,"y":1.0015},{"x":0.55,"y":1.0018},{"x":0.57,"y":1.0022},{"x":0.59,"y":1.0017},{"x":0.61,"y":1.0024},{"x":0.63,"y":1.0026},{"x":0.65,"y":1.0028},{"x":0.67,"y":1.0032},{"x":0.69,"y":1.0022},{"x":0.71,"y":1.0026},{"x":0.73,"y":1.0018},{"x":0.75,"y":1.0014},{"x":0.77,"y":1.001},{"x":0.79,"y":1.0004},{"x":0.81,"y":0.9998},{"x":0.83,"y":0.9988},{"x":0.85,"y":0.9982},{"x":0.87,"y":0.9978},{"x":0.89,"y":0.9972},{"x":0.91,"y":0.9968},{"x":0.93,"y":0.9962},{"x":0.95,"y":0.996},{"x":0.955,"y":0.995},{"x":0.96,"y":0.985},{"x":0.965,"y":0.971},{"x":0.97,"y":0.957},{"x":0.975,"y":0.9467},{"x":0.98,"y":0.9395}],
"d12":[{"x":0,"y":0.847},{"x":0.005,"y":0.857},{"x":0.01,"y":0.868},{"x":0.015,"y":0.885},{"x":0.02,"y":0.899},{"x":0.025,"y":0.913},{"x":0.03,"y":0.927},{"x":0.035,"y":0.941},{"x":0.04,"y":0.955},{"x":0.045,"y":0.967},{"x":0.05,"y":0.978},{"x":0.06,"y":0.988},{"x":0.08,"y":0.993},{"x":0.1,"y":0.996},{"x":0.12,"y":1.0},{"x":0.14,"y":1.004},{"x":0.16,"y":1.008},{"x":0.18,"y":1.011},{"x":0.2,"y":1.013},{"x":0.22,"y":1.0145},{"x":0.24,"y":1.0148},{"x":0.26,"y":1.014},{"x":0.28,"y":1.011},{"x":0.3,"y":1.007},{"x":0.32,"y":1.002},{"x":0.34,"y":0.997},{"x":0.36,"y":0.993},{"x":0.38,"y":0.989},{"x":0.4,"y":0.986},{"x":0.42,"y":0.982},{"x":0.43,"y":0.978},{"x":0.44,"y":0.974},{"x":0.45,"y":0.968},{"x":0.46,"y":0.953},{"x":0.47,"y":0.93},{"x":0.48,"y":0.908},{"x":0.49,"y":0.88},{"x":0.495,"y":0.863},{"x":0.5,"y":0.851},{"x":0.505,"y":0.856},{"x":0.51,"y":0.87},{"x":0.515,"y":0.885},{"x":0.52,"y":0.902},{"x":0.525,"y":0.919},{"x":0.53,"y":0.936},{"x":0.535,"y":0.953},{"x":0.54,"y":0.968},{"x":0.55,"y":0.984},{"x":0.56,"y":0.99},{"x":0.58,"y":0.995},{"x":0.6,"y":0.999},{"x":0.62,"y":1.003},{"x":0.64,"y":1.007},{"x":0.66,"y":1.01},{"x":0.68,"y":1.013},{"x":0.7,"y":1.015},{"x":0.72,"y":1.017},{"x":0.74,"y":1.019},{"x":0.76,"y":1.0195},{"x":0.78,"y":1.019},{"x":0.8,"y":1.016},{"x":0.82,"y":1.012},{"x":0.84,"y":1.007},{"x":0.86,"y":1.002},{"x":0.88,"y":0.998},{"x":0.9,"y":0.996},{"x":0.92,"y":0.993},{"x":0.93,"y":0.988},{"x":0.94,"y":0.975},{"x":0.95,"y":0.955},{"x":0.955,"y":0.944},{"x":0.96,"y":0.933},{"x":0.965,"y":0.921},{"x":0.97,"y":0.91},{"x":0.975,"y":0.89},{"x":0.98,"y":0.874},{"x":0.985,"y":0.862},{"x":0.99,"y":0.854},{"x":0.995,"y":0.849},{"x":1.0,"y":0.847}],
"d13":[{"x":0,"y":0.9538},{"x":0.005,"y":0.956},{"x":0.01,"y":0.9613},{"x":0.015,"y":0.97},{"x":0.02,"y":0.978},{"x":0.025,"y":0.988},{"x":0.03,"y":0.9956},{"x":0.035,"y":1.0008},{"x":0.04,"y":1.0015},{"x":0.06,"y":1.0018},{"x":0.08,"y":1.0022},{"x":0.1,"y":1.0025},{"x":0.12,"y":1.003},{"x":0.14,"y":1.0033},{"x":0.16,"y":1.0038},{"x":0.18,"y":1.004},{"x":0.2,"y":1.0043},{"x":0.22,"y":1.0048},{"x":0.24,"y":1.005},{"x":0.26,"y":1.0052},{"x":0.28,"y":1.0054},{"x":0.3,"y":1.0055},{"x":0.32,"y":1.0056},{"x":0.34,"y":1.0056},{"x":0.36,"y":1.0057},{"x":0.38,"y":1.0056},{"x":0.4,"y":1.0055},{"x":0.42,"y":1.0055},{"x":0.44,"y":1.0053},{"x":0.45,"y":1.003},{"x":0.455,"y":0.9995},{"x":0.46,"y":0.9965},{"x":0.465,"y":0.993},{"x":0.47,"y":0.9905},{"x":0.475,"y":0.9885},{"x":0.48,"y":0.9877},{"x":0.49,"y":0.9878},{"x":0.5,"y":0.988},{"x":0.505,"y":0.9885},{"x":0.51,"y":0.9905},{"x":0.515,"y":0.994},{"x":0.52,"y":0.998},{"x":0.525,"y":1.002},{"x":0.53,"y":1.005},{"x":0.54,"y":1.0057},{"x":0.56,"y":1.0058},{"x":0.58,"y":1.0056},{"x":0.6,"y":1.0057},{"x":0.62,"y":1.0055},{"x":0.64,"y":1.0055},{"x":0.66,"y":1.0054},{"x":0.68,"y":1.0052},{"x":0.7,"y":1.005},{"x":0.72,"y":1.0048},{"x":0.74,"y":1.0045},{"x":0.76,"y":1.0042},{"x":0.78,"y":1.0038},{"x":0.8,"y":1.0035},{"x":0.82,"y":1.003},{"x":0.84,"y":1.0028},{"x":0.86,"y":1.0024},{"x":0.88,"y":1.002},{"x":0.9,"y":1.0016},{"x":0.92,"y":1.001},{"x":0.93,"y":1.0008},{"x":0.94,"y":1.0005},{"x":0.945,"y":0.9995},{"x":0.95,"y":0.996},{"x":0.955,"y":0.988},{"x":0.96,"y":0.978},{"x":0.965,"y":0.968},{"x":0.97,"y":0.96},{"x":0.975,"y":0.956},{"x":0.98,"y":0.9538}],
"d14":[{"x":0,"y":0.7688},{"x":0.005,"y":0.786},{"x":0.01,"y":0.827},{"x":0.015,"y":0.864},{"x":0.02,"y":0.905},{"x":0.025,"y":0.946},{"x":0.03,"y":0.979},{"x":0.035,"y":0.997},{"x":0.04,"y":1.0},{"x":0.06,"y":0.999},{"x":0.08,"y":1.0005},{"x":0.1,"y":0.9995},{"x":0.12,"y":1.0},{"x":0.14,"y":1.0008},{"x":0.16,"y":0.9995},{"x":0.18,"y":1.0003},{"x":0.2,"y":0.9998},{"x":0.22,"y":1.0006},{"x":0.24,"y":0.9996},{"x":0.26,"y":1.0004},{"x":0.28,"y":0.9997},{"x":0.3,"y":1.0007},{"x":0.32,"y":0.9998},{"x":0.34,"y":1.0004},{"x":0.36,"y":0.9995},{"x":0.38,"y":1.0006},{"x":0.4,"y":0.9998},{"x":0.42,"y":1.0005},{"x":0.44,"y":0.9996},{"x":0.46,"y":1.0004},{"x":0.48,"y":0.9998},{"x":0.5,"y":1.0007},{"x":0.52,"y":0.9996},{"x":0.54,"y":1.0005},{"x":0.56,"y":0.9998},{"x":0.58,"y":1.0006},{"x":0.6,"y":0.9997},{"x":0.62,"y":1.0008},{"x":0.64,"y":0.9999},{"x":0.66,"y":1.0006},{"x":0.68,"y":1.0},{"x":0.7,"y":1.0012},{"x":0.72,"y":0.9998},{"x":0.74,"y":1.0008},{"x":0.76,"y":1.0003},{"x":0.78,"y":1.0014},{"x":0.8,"y":0.9999},{"x":0.82,"y":1.0008},{"x":0.84,"y":1.0002},{"x":0.86,"y":1.0006},{"x":0.9,"y":1.0004},{"x":0.92,"y":1.0},{"x":0.935,"y":0.998},{"x":0.945,"y":0.99},{"x":0.95,"y":0.9696},{"x":0.955,"y":0.9345},{"x":0.96,"y":0.8916},{"x":0.965,"y":0.851},{"x":0.97,"y":0.816},{"x":0.975,"y":0.781},{"x":0.98,"y":0.769}],
"d15":[{"x":0,"y":0.7},{"x":0.005,"y":0.72},{"x":0.01,"y":0.75},{"x":0.015,"y":0.77},{"x":0.02,"y":0.793},{"x":0.025,"y":0.826},{"x":0.03,"y":0.853},{"x":0.035,"y":0.884},{"x":0.04,"y":0.917},{"x":0.045,"y":0.944},{"x":0.05,"y":0.967},{"x":0.06,"y":0.982},{"x":0.08,"y":0.988},{"x":0.1,"y":0.993},{"x":0.12,"y":0.998},{"x":0.14,"y":1.002},{"x":0.16,"y":1.006},{"x":0.18,"y":1.009},{"x":0.2,"y":1.011},{"x":0.22,"y":1.0125},{"x":0.24,"y":1.013},{"x":0.26,"y":1.013},{"x":0.28,"y":1.012},{"x":0.3,"y":1.01},{"x":0.32,"y":1.007},{"x":0.34,"y":1.004},{"x":0.36,"y":1.001},{"x":0.38,"y":0.998},{"x":0.4,"y":0.995},{"x":0.41,"y":0.99},{"x":0.42,"y":0.967},{"x":0.43,"y":0.937},{"x":0.44,"y":0.902},{"x":0.45,"y":0.871},{"x":0.46,"y":0.841},{"x":0.47,"y":0.816},{"x":0.48,"y":0.8},{"x":0.49,"y":0.79},{"x":0.495,"y":0.789},{"x":0.5,"y":0.793},{"x":0.51,"y":0.82},{"x":0.52,"y":0.851},{"x":0.53,"y":0.881},{"x":0.54,"y":0.917},{"x":0.55,"y":0.952},{"x":0.56,"y":0.98},{"x":0.58,"y":0.994},{"x":0.6,"y":0.998},{"x":0.62,"y":1.002},{"x":0.64,"y":1.006},{"x":0.66,"y":1.009},{"x":0.68,"y":1.011},{"x":0.7,"y":1.0125},{"x":0.72,"y":1.0132},{"x":0.74,"y":1.013},{"x":0.76,"y":1.012},{"x":0.78,"y":1.01},{"x":0.8,"y":1.007},{"x":0.82,"y":1.004},{"x":0.84,"y":1.0},{"x":0.86,"y":0.997},{"x":0.88,"y":0.993},{"x":0.9,"y":0.989},{"x":0.92,"y":0.983},{"x":0.93,"y":0.975},{"x":0.94,"y":0.95},{"x":0.95,"y":0.917},{"x":0.955,"y":0.881},{"x":0.96,"y":0.85},{"x":0.965,"y":0.82},{"x":0.97,"y":0.79},{"x":0.975,"y":0.765},{"x":0.98,"y":0.74},{"x":0.99,"y":0.715},{"x":0.995,"y":0.7}],
"d16":[{"x":0,"y":0.9855},{"x":0.005,"y":0.9872},{"x":0.01,"y":0.9908},{"x":0.015,"y":0.9953},{"x":0.02,"y":0.9986},{"x":0.03,"y":0.9991},{"x":0.04,"y":0.9992},{"x":0.06,"y":0.9995},{"x":0.08,"y":0.9997},{"x":0.1,"y":0.9999},{"x":0.12,"y":1.0001},{"x":0.14,"y":1.0003},{"x":0.16,"y":1.0004},{"x":0.18,"y":1.0006},{"x":0.2,"y":1.0007},{"x":0.22,"y":1.0008},{"x":0.24,"y":1.0009},{"x":0.26,"y":1.0009},{"x":0.27,"y":1.0003},{"x":0.28,"y":1.0004},{"x":0.3,"y":1.001},{"x":0.32,"y":1.0011},{"x":0.34,"y":1.0013},{"x":0.36,"y":1.0014},{"x":0.38,"y":1.0015},{"x":0.4,"y":1.0016},{"x":0.42,"y":1.0016},{"x":0.44,"y":1.0017},{"x":0.46,"y":1.0018},{"x":0.47,"y":1.0019},{"x":0.475,"y":1.0012},{"x":0.48,"y":1.0005},{"x":0.485,"y":0.9993},{"x":0.49,"y":0.9984},{"x":0.495,"y":0.9976},{"x":0.5,"y":0.9964},{"x":0.505,"y":0.9972},{"x":0.51,"y":0.9988},{"x":0.515,"y":1.0005},{"x":0.52,"y":1.0019},{"x":0.54,"y":1.0018},{"x":0.56,"y":1.0017},{"x":0.58,"y":1.0016},{"x":0.6,"y":1.0015},{"x":0.62,"y":1.0014},{"x":0.64,"y":1.0013},{"x":0.66,"y":1.0011},{"x":0.68,"y":1.001},{"x":0.7,"y":1.0009},{"x":0.72,"y":1.0008},{"x":0.74,"y":1.0006},{"x":0.76,"y":1.0005},{"x":0.78,"y":1.0004},{"x":0.8,"y":1.0003},{"x":0.82,"y":1.0001},{"x":0.84,"y":1.0},{"x":0.86,"y":0.9999},{"x":0.88,"y":0.9997},{"x":0.9,"y":0.9996},{"x":0.92,"y":0.9994},{"x":0.94,"y":0.9992},{"x":0.95,"y":0.999},{"x":0.955,"y":0.9985},{"x":0.96,"y":0.9957},{"x":0.965,"y":0.9912},{"x":0.97,"y":0.9875},{"x":0.975,"y":0.9855}],
"d17":[{"x":0,"y":0.9715},{"x":0.005,"y":0.9736},{"x":0.01,"y":0.9798},{"x":0.015,"y":0.987},{"x":0.02,"y":0.9948},{"x":0.025,"y":1.0008},{"x":0.03,"y":1.0018},{"x":0.04,"y":1.002},{"x":0.06,"y":1.0015},{"x":0.08,"y":1.0022},{"x":0.1,"y":1.0018},{"x":0.12,"y":1.0025},{"x":0.14,"y":1.0022},{"x":0.16,"y":1.0028},{"x":0.18,"y":1.003},{"x":0.2,"y":1.0033},{"x":0.22,"y":1.0039},{"x":0.24,"y":1.003},{"x":0.26,"y":1.0025},{"x":0.28,"y":1.002},{"x":0.3,"y":1.0018},{"x":0.32,"y":1.0014},{"x":0.34,"y":1.0012},{"x":0.36,"y":1.001},{"x":0.38,"y":1.0012},{"x":0.4,"y":1.001},{"x":0.42,"y":1.0008},{"x":0.44,"y":1.0005},{"x":0.46,"y":1.0002},{"x":0.47,"y":0.999},{"x":0.48,"y":0.9975},{"x":0.485,"y":0.9964},{"x":0.49,"y":0.9955},{"x":0.495,"y":0.9946},{"x":0.5,"y":0.9943},{"x":0.505,"y":0.995},{"x":0.51,"y":0.9962},{"x":0.515,"y":0.9975},{"x":0.52,"y":0.999},{"x":0.53,"y":0.9998},{"x":0.55,"y":1.0},{"x":0.57,"y":1.0003},{"x":0.59,"y":1.0005},{"x":0.61,"y":1.0008},{"x":0.63,"y":1.001},{"x":0.65,"y":1.0012},{"x":0.67,"y":1.0014},{"x":0.69,"y":1.0016},{"x":0.71,"y":1.0018},{"x":0.73,"y":1.002},{"x":0.75,"y":1.0021},{"x":0.77,"y":1.0022},{"x":0.79,"y":1.0021},{"x":0.81,"y":1.002},{"x":0.83,"y":1.0018},{"x":0.85,"y":1.0016},{"x":0.87,"y":1.0014},{"x":0.89,"y":1.0013},{"x":0.91,"y":1.0012},{"x":0.93,"y":1.0011},{"x":0.95,"y":1.001},{"x":0.96,"y":0.9999},{"x":0.965,"y":0.9937},{"x":0.97,"y":0.9857},{"x":0.975,"y":0.978},{"x":0.98,"y":0.9728},{"x":0.985,"y":0.971}],
"d18":[{"x":0,"y":0.942},{"x":0.01,"y":0.944},{"x":0.02,"y":0.947},{"x":0.03,"y":0.95},{"x":0.04,"y":0.953},{"x":0.05,"y":0.957},{"x":0.06,"y":0.96},{"x":0.07,"y":0.964},{"x":0.08,"y":0.967},{"x":0.09,"y":0.97},{"x":0.1,"y":0.973},{"x":0.11,"y":0.977},{"x":0.12,"y":0.98},{"x":0.13,"y":0.984},{"x":0.14,"y":0.987},{"x":0.15,"y":0.991},{"x":0.16,"y":0.994},{"x":0.17,"y":0.998},{"x":0.18,"y":1.001},{"x":0.19,"y":1.004},{"x":0.2,"y":1.007},{"x":0.21,"y":1.011},{"x":0.22,"y":1.014},{"x":0.23,"y":1.018},{"x":0.24,"y":1.021},{"x":0.25,"y":1.025},{"x":0.26,"y":1.028},{"x":0.27,"y":1.031},{"x":0.28,"y":1.03},{"x":0.29,"y":1.029},{"x":0.3,"y":1.027},{"x":0.31,"y":1.024},{"x":0.32,"y":1.02},{"x":0.33,"y":1.017},{"x":0.34,"y":1.014},{"x":0.35,"y":1.011},{"x":0.36,"y":1.007},{"x":0.37,"y":1.003},{"x":0.38,"y":1.0},{"x":0.39,"y":0.998},{"x":0.4,"y":0.995},{"x":0.41,"y":0.993},{"x":0.42,"y":0.99},{"x":0.43,"y":0.988},{"x":0.44,"y":0.985},{"x":0.45,"y":0.983},{"x":0.46,"y":0.98},{"x":0.47,"y":0.978},{"x":0.48,"y":0.976},{"x":0.49,"y":0.974},{"x":0.5,"y":0.972},{"x":0.51,"y":0.976},{"x":0.52,"y":0.98},{"x":0.53,"y":0.984},{"x":0.54,"y":0.987},{"x":0.55,"y":0.991},{"x":0.56,"y":0.995},{"x":0.57,"y":0.999},{"x":0.58,"y":1.002},{"x":0.59,"y":1.005},{"x":0.6,"y":1.007},{"x":0.61,"y":1.01},{"x":0.62,"y":1.012},{"x":0.63,"y":1.014},{"x":0.64,"y":1.016},{"x":0.65,"y":1.018},{"x":0.66,"y":1.019},{"x":0.67,"y":1.021},{"x":0.68,"y":1.022},{"x":0.69,"y":1.023},{"x":0.7,"y":1.024},{"x":0.71,"y":1.026},{"x":0.72,"y":1.027},{"x":0.73,"y":1.028},{"x":0.74,"y":1.025},{"x":0.75,"y":1.022},{"x":0.76,"y":1.02},{"x":0.77,"y":1.016},{"x":0.78,"y":1.013},{"x":0.79,"y":1.01},{"x":0.8,"y":1.007},{"x":0.81,"y":1.003},{"x":0.82,"y":1.0},{"x":0.83,"y":0.996},{"x":0.84,"y":0.993},{"x":0.85,"y":0.99},{"x":0.86,"y":0.986},{"x":0.87,"y":0.983},{"x":0.88,"y":0.979},{"x":0.89,"y":0.976},{"x":0.9,"y":0.973},{"x":0.91,"y":0.97},{"x":0.92,"y":0.966},{"x":0.93,"y":0.963},{"x":0.94,"y":0.96},{"x":0.95,"y":0.957},{"x":0.96,"y":0.953},{"x":0.97,"y":0.95},{"x":0.98,"y":0.947},{"x":0.99,"y":0.944},{"x":1.0,"y":0.943}],
"d19":[{"x":0,"y":0.9318,"e":0.004},{"x":0.005,"y":0.9393,"e":0.004},{"x":0.01,"y":0.937,"e":0.004},{"x":0.015,"y":0.9609,"e":0.004},{"x":0.02,"y":0.9945,"e":0.004},{"x":0.025,"y":0.9855,"e":0.004},{"x":0.03,"y":0.984,"e":0.004},{"x":0.035,"y":0.997,"e":0.004},{"x":0.04,"y":1.004,"e":0.004},{"x":0.05,"y":0.995,"e":0.004},{"x":0.06,"y":1.006,"e":0.004},{"x":0.07,"y":0.999,"e":0.004},{"x":0.08,"y":1.003,"e":0.004},{"x":0.09,"y":0.996,"e":0.004},{"x":0.1,"y":1.004,"e":0.004},{"x":0.11,"y":0.998,"e":0.004},{"x":0.12,"y":1.007,"e":0.004},{"x":0.13,"y":0.995,"e":0.004},{"x":0.14,"y":1.005,"e":0.004},{"x":0.15,"y":0.999,"e":0.004},{"x":0.16,"y":1.008,"e":0.004},{"x":0.17,"y":0.997,"e":0.004},{"x":0.18,"y":1.006,"e":0.004},{"x":0.19,"y":1.0,"e":0.004},{"x":0.2,"y":1.009,"e":0.004},{"x":0.21,"y":0.998,"e":0.004},{"x":0.22,"y":1.007,"e":0.004},{"x":0.23,"y":1.002,"e":0.004},{"x":0.24,"y":1.01,"e":0.004},{"x":0.25,"y":0.999,"e":0.004},{"x":0.26,"y":1.008,"e":0.004},{"x":0.27,"y":1.004,"e":0.004},{"x":0.28,"y":1.014,"e":0.004},{"x":0.29,"y":1.0,"e":0.004},{"x":0.3,"y":1.009,"e":0.004},{"x":0.31,"y":1.003,"e":0.004},{"x":0.32,"y":1.012,"e":0.004},{"x":0.33,"y":1.004,"e":0.004},{"x":0.34,"y":1.011,"e":0.004},{"x":0.35,"y":1.005,"e":0.004},{"x":0.36,"y":1.013,"e":0.004},{"x":0.37,"y":1.002,"e":0.004},{"x":0.38,"y":1.01,"e":0.004},{"x":0.39,"y":1.006,"e":0.004},{"x":0.4,"y":1.014,"e":0.004},{"x":0.41,"y":1.003,"e":0.004},{"x":0.42,"y":1.011,"e":0.004},{"x":0.43,"y":1.004,"e":0.004},{"x":0.44,"y":1.009,"e":0.004},{"x":0.45,"y":0.998,"e":0.004},{"x":0.46,"y":1.006,"e":0.004},{"x":0.47,"y":0.994,"e":0.004},{"x":0.48,"y":0.999,"e":0.004},{"x":0.49,"y":0.9915,"e":0.004},{"x":0.5,"y":0.996,"e":0.004},{"x":0.51,"y":1.002,"e":0.004},{"x":0.52,"y":1.009,"e":0.004},{"x":0.53,"y":1.005,"e":0.004},{"x":0.54,"y":1.012,"e":0.004},{"x":0.55,"y":1.006,"e":0.004},{"x":0.56,"y":1.014,"e":0.004},{"x":0.57,"y":1.004,"e":0.004},{"x":0.58,"y":1.011,"e":0.004},{"x":0.59,"y":1.005,"e":0.004},{"x":0.6,"y":1.013,"e":0.004},{"x":0.61,"y":1.003,"e":0.004},{"x":0.62,"y":1.01,"e":0.004},{"x":0.63,"y":1.002,"e":0.004},{"x":0.64,"y":1.008,"e":0.004},{"x":0.65,"y":0.999,"e":0.004},{"x":0.66,"y":1.006,"e":0.004},{"x":0.67,"y":0.998,"e":0.004},{"x":0.68,"y":1.005,"e":0.004},{"x":0.69,"y":0.997,"e":0.004},{"x":0.7,"y":1.004,"e":0.004},{"x":0.71,"y":0.996,"e":0.004},{"x":0.72,"y":1.004,"e":0.004},{"x":0.73,"y":0.995,"e":0.004},{"x":0.74,"y":1.003,"e":0.004},{"x":0.75,"y":0.994,"e":0.004},{"x":0.76,"y":1.002,"e":0.004},{"x":0.77,"y":0.993,"e":0.004},{"x":0.78,"y":1.001,"e":0.004},{"x":0.79,"y":0.99,"e":0.004},{"x":0.8,"y":0.999,"e":0.004},{"x":0.81,"y":0.992,"e":0.004},{"x":0.82,"y":1.001,"e":0.004},{"x":0.83,"y":0.993,"e":0.004},{"x":0.84,"y":1.0,"e":0.004},{"x":0.85,"y":0.991,"e":0.004},{"x":0.86,"y":0.998,"e":0.004},{"x":0.87,"y":0.99,"e":0.004},{"x":0.88,"y":0.997,"e":0.004},{"x":0.89,"y":0.992,"e":0.004},{"x":0.9,"y":0.999,"e":0.004},{"x":0.91,"y":0.989,"e":0.004},{"x":0.92,"y":0.996,"e":0.004},{"x":0.93,"y":0.991,"e":0.004},{"x":0.94,"y":0.987,"e":0.004},{"x":0.95,"y":0.953,"e":0.004},{"x":0.955,"y":0.935,"e":0.004},{"x":0.96,"y":0.933,"e":0.004},{"x":0.965,"y":0.9364,"e":0.004}],
"d20":[{"x":0,"y":0.9194,"e":0.0015},{"x":0.005,"y":0.9368,"e":0.0015},{"x":0.01,"y":0.9558,"e":0.0015},{"x":0.015,"y":0.9914,"e":0.0015},{"x":0.02,"y":1.0027,"e":0.0015},{"x":0.03,"y":0.994,"e":0.0015},{"x":0.04,"y":1.002,"e":0.0015},{"x":0.05,"y":0.993,"e":0.0015},{"x":0.06,"y":1.003,"e":0.0015},{"x":0.07,"y":0.995,"e":0.0015},{"x":0.08,"y":1.002,"e":0.0015},{"x":0.09,"y":0.993,"e":0.0015},{"x":0.1,"y":1.004,"e":0.0015},{"x":0.11,"y":0.996,"e":0.0015},{"x":0.12,"y":1.003,"e":0.0015},{"x":0.13,"y":0.994,"e":0.0015},{"x":0.14,"y":1.004,"e":0.0015},{"x":0.15,"y":0.997,"e":0.0015},{"x":0.16,"y":1.003,"e":0.0015},{"x":0.17,"y":0.995,"e":0.0015},{"x":0.18,"y":1.004,"e":0.0015},{"x":0.19,"y":0.996,"e":0.0015},{"x":0.2,"y":1.003,"e":0.0015},{"x":0.21,"y":0.997,"e":0.0015},{"x":0.22,"y":1.005,"e":0.0015},{"x":0.23,"y":0.998,"e":0.0015},{"x":0.24,"y":1.004,"e":0.0015},{"x":0.25,"y":0.999,"e":0.0015},{"x":0.26,"y":1.006,"e":0.0015},{"x":0.27,"y":0.999,"e":0.0015},{"x":0.28,"y":1.004,"e":0.0015},{"x":0.29,"y":1.0,"e":0.0015},{"x":0.3,"y":1.005,"e":0.0015},{"x":0.31,"y":1.0,"e":0.0015},{"x":0.32,"y":1.004,"e":0.0015},{"x":0.33,"y":1.001,"e":0.0015},{"x":0.34,"y":1.005,"e":0.0015},{"x":0.35,"y":1.001,"e":0.0015},{"x":0.36,"y":1.004,"e":0.0015},{"x":0.37,"y":1.002,"e":0.0015},{"x":0.38,"y":1.005,"e":0.0015},{"x":0.39,"y":1.001,"e":0.0015},{"x":0.4,"y":1.004,"e":0.0015},{"x":0.41,"y":1.002,"e":0.0015},{"x":0.42,"y":1.004,"e":0.0015},{"x":0.43,"y":1.001,"e":0.0015},{"x":0.44,"y":1.003,"e":0.0015},{"x":0.45,"y":1.002,"e":0.0015},{"x":0.46,"y":1.004,"e":0.0015},{"x":0.47,"y":0.9944,"e":0.0015},{"x":0.48,"y":0.9785,"e":0.0015},{"x":0.49,"y":0.979,"e":0.0015},{"x":0.5,"y":0.978,"e":0.0015},{"x":0.51,"y":0.986,"e":0.0015},{"x":0.52,"y":0.9997,"e":0.0015},{"x":0.53,"y":1.004,"e":0.0015},{"x":0.54,"y":0.998,"e":0.0015},{"x":0.55,"y":1.005,"e":0.0015},{"x":0.56,"y":0.997,"e":0.0015},{"x":0.57,"y":1.006,"e":0.0015},{"x":0.58,"y":0.996,"e":0.0015},{"x":0.59,"y":1.006,"e":0.0015},{"x":0.6,"y":0.997,"e":0.0015},{"x":0.61,"y":1.007,"e":0.0015},{"x":0.62,"y":0.996,"e":0.0015},{"x":0.63,"y":1.007,"e":0.0015},{"x":0.64,"y":0.995,"e":0.0015},{"x":0.65,"y":1.008,"e":0.0015},{"x":0.66,"y":0.996,"e":0.0015},{"x":0.67,"y":1.008,"e":0.0015},{"x":0.68,"y":0.995,"e":0.0015},{"x":0.69,"y":1.009,"e":0.0015},{"x":0.7,"y":0.996,"e":0.0015},{"x":0.71,"y":1.009,"e":0.0015},{"x":0.72,"y":0.995,"e":0.0015},{"x":0.73,"y":1.01,"e":0.0015},{"x":0.74,"y":0.996,"e":0.0015},{"x":0.75,"y":1.0103,"e":0.0015},{"x":0.76,"y":0.996,"e":0.0015},{"x":0.77,"y":1.009,"e":0.0015},{"x":0.78,"y":0.996,"e":0.0015},{"x":0.79,"y":1.008,"e":0.0015},{"x":0.8,"y":0.995,"e":0.0015},{"x":0.81,"y":1.008,"e":0.0015},{"x":0.82,"y":0.996,"e":0.0015},{"x":0.83,"y":1.006,"e":0.0015},{"x":0.84,"y":0.995,"e":0.0015},{"x":0.85,"y":1.007,"e":0.0015},{"x":0.86,"y":0.996,"e":0.0015},{"x":0.87,"y":1.005,"e":0.0015},{"x":0.88,"y":0.995,"e":0.0015},{"x":0.89,"y":1.006,"e":0.0015},{"x":0.9,"y":0.994,"e":0.0015},{"x":0.91,"y":1.003,"e":0.0015},{"x":0.92,"y":0.993,"e":0.0015},{"x":0.93,"y":1.002,"e":0.0015},{"x":0.94,"y":0.9914,"e":0.0015},{"x":0.945,"y":0.9898,"e":0.0015},{"x":0.95,"y":0.952,"e":0.0015},{"x":0.955,"y":0.9277,"e":0.0015},{"x":0.96,"y":0.924,"e":0.0015}],
"d21":[{"x":0,"y":0.9765,"e":0.0004},{"x":0.005,"y":0.9787,"e":0.0004},{"x":0.01,"y":0.9834,"e":0.0004},{"x":0.015,"y":0.9881,"e":0.0004},{"x":0.02,"y":0.9934,"e":0.0004},{"x":0.025,"y":0.997,"e":0.0004},{"x":0.03,"y":0.9999,"e":0.0004},{"x":0.04,"y":1.0008,"e":0.0004},{"x":0.05,"y":1.0003,"e":0.0004},{"x":0.06,"y":1.001,"e":0.0004},{"x":0.07,"y":1.0005,"e":0.0004},{"x":0.08,"y":1.0012,"e":0.0004},{"x":0.09,"y":1.0008,"e":0.0004},{"x":0.1,"y":1.0015,"e":0.0004},{"x":0.11,"y":1.001,"e":0.0004},{"x":0.12,"y":1.0018,"e":0.0004},{"x":0.13,"y":1.0014,"e":0.0004},{"x":0.14,"y":1.0022,"e":0.0004},{"x":0.15,"y":1.0018,"e":0.0004},{"x":0.16,"y":1.0026,"e":0.0004},{"x":0.17,"y":1.002,"e":0.0004},{"x":0.18,"y":1.003,"e":0.0004},{"x":0.19,"y":1.0025,"e":0.0004},{"x":0.2,"y":1.0035,"e":0.0004},{"x":0.21,"y":1.0028,"e":0.0004},{"x":0.22,"y":1.0022,"e":0.0004},{"x":0.23,"y":1.0016,"e":0.0004},{"x":0.24,"y":1.0012,"e":0.0004},{"x":0.25,"y":1.0015,"e":0.0004},{"x":0.26,"y":1.0008,"e":0.0004},{"x":0.27,"y":1.0012,"e":0.0004},{"x":0.28,"y":1.0005,"e":0.0004},{"x":0.29,"y":1.0009,"e":0.0004},{"x":0.3,"y":1.0002,"e":0.0004},{"x":0.31,"y":1.0006,"e":0.0004},{"x":0.32,"y":1.0,"e":0.0004},{"x":0.33,"y":1.0004,"e":0.0004},{"x":0.34,"y":0.9998,"e":0.0004},{"x":0.35,"y":1.0003,"e":0.0004},{"x":0.36,"y":0.9997,"e":0.0004},{"x":0.37,"y":1.0001,"e":0.0004},{"x":0.38,"y":0.9994,"e":0.0004},{"x":0.39,"y":0.9999,"e":0.0004},{"x":0.4,"y":0.9992,"e":0.0004},{"x":0.41,"y":0.9995,"e":0.0004},{"x":0.42,"y":0.9985,"e":0.0004},{"x":0.425,"y":0.9968,"e":0.0004},{"x":0.43,"y":0.995,"e":0.0004},{"x":0.435,"y":0.9934,"e":0.0004},{"x":0.44,"y":0.9922,"e":0.0004},{"x":0.445,"y":0.9915,"e":0.0004},{"x":0.45,"y":0.9912,"e":0.0008},{"x":0.455,"y":0.9924,"e":0.0004},{"x":0.46,"y":0.9945,"e":0.0004},{"x":0.465,"y":0.9968,"e":0.0004},{"x":0.47,"y":0.9992,"e":0.0004},{"x":0.48,"y":1.0002,"e":0.0004},{"x":0.49,"y":0.9997,"e":0.0004},{"x":0.5,"y":1.0004,"e":0.0004},{"x":0.51,"y":0.9998,"e":0.0004},{"x":0.52,"y":1.0003,"e":0.0004},{"x":0.53,"y":0.9997,"e":0.0004},{"x":0.54,"y":1.0004,"e":0.0004},{"x":0.55,"y":0.9999,"e":0.0004},{"x":0.56,"y":1.0005,"e":0.0004},{"x":0.57,"y":0.9998,"e":0.0004},{"x":0.58,"y":1.0004,"e":0.0004},{"x":0.59,"y":1.0,"e":0.0004},{"x":0.6,"y":1.0006,"e":0.0004},{"x":0.61,"y":0.9999,"e":0.0004},{"x":0.62,"y":1.0007,"e":0.0004},{"x":0.63,"y":1.0001,"e":0.0004},{"x":0.64,"y":1.0008,"e":0.0004},{"x":0.65,"y":1.0002,"e":0.0004},{"x":0.66,"y":1.001,"e":0.0004},{"x":0.67,"y":1.0004,"e":0.0004},{"x":0.68,"y":1.0012,"e":0.0004},{"x":0.69,"y":1.0006,"e":0.0004},{"x":0.7,"y":1.0014,"e":0.0004},{"x":0.71,"y":1.0007,"e":0.0004},{"x":0.72,"y":1.0012,"e":0.0004},{"x":0.73,"y":1.0005,"e":0.0004},{"x":0.74,"y":1.001,"e":0.0004},{"x":0.75,"y":1.0003,"e":0.0004},{"x":0.76,"y":1.0008,"e":0.0004},{"x":0.77,"y":1.0001,"e":0.0004},{"x":0.78,"y":1.0005,"e":0.0004},{"x":0.79,"y":0.9998,"e":0.0004},{"x":0.8,"y":1.0003,"e":0.0004},{"x":0.81,"y":0.9997,"e":0.0004},{"x":0.82,"y":1.0002,"e":0.0004},{"x":0.83,"y":0.9995,"e":0.0004},{"x":0.84,"y":1.0001,"e":0.0004},{"x":0.85,"y":0.9994,"e":0.0004},{"x":0.86,"y":1.0,"e":0.0004},{"x":0.87,"y":0.9993,"e":0.0004},{"x":0.88,"y":0.9999,"e":0.0004},{"x":0.89,"y":0.9992,"e":0.0004},{"x":0.9,"y":0.9998,"e":0.0004},{"x":0.91,"y":0.9993,"e":0.0004},{"x":0.92,"y":0.9999,"e":0.0004},{"x":0.93,"y":0.9994,"e":0.0004},{"x":0.94,"y":0.9997,"e":0.0004},{"x":0.95,"y":0.9993,"e":0.0004},{"x":0.955,"y":0.9963,"e":0.0004},{"x":0.96,"y":0.9922,"e":0.0004},{"x":0.965,"y":0.9871,"e":0.0004},{"x":0.97,"y":0.9823,"e":0.0004},{"x":0.975,"y":0.9794,"e":0.0004},{"x":0.98,"y":0.9768,"e":0.0004},{"x":0.985,"y":0.9762,"e":0.0004}],
"d22":[{"x":0,"y":0.548},{"x":0.008,"y":0.594},{"x":0.016,"y":0.641},{"x":0.024,"y":0.696},{"x":0.032,"y":0.751},{"x":0.04,"y":0.798},{"x":0.048,"y":0.845},{"x":0.056,"y":0.892},{"x":0.064,"y":0.935},{"x":0.072,"y":0.974},{"x":0.08,"y":0.99},{"x":0.09,"y":0.997},{"x":0.1,"y":1.0},{"x":0.12,"y":1.008},{"x":0.14,"y":1.015},{"x":0.16,"y":1.021},{"x":0.18,"y":1.026},{"x":0.2,"y":1.03},{"x":0.22,"y":1.032},{"x":0.24,"y":1.033},{"x":0.26,"y":1.033},{"x":0.28,"y":1.031},{"x":0.3,"y":1.028},{"x":0.32,"y":1.024},{"x":0.34,"y":1.019},{"x":0.36,"y":1.013},{"x":0.38,"y":1.005},{"x":0.4,"y":0.996},{"x":0.41,"y":0.985},{"x":0.42,"y":0.955},{"x":0.425,"y":0.92},{"x":0.43,"y":0.884},{"x":0.44,"y":0.83},{"x":0.45,"y":0.782},{"x":0.46,"y":0.727},{"x":0.47,"y":0.673},{"x":0.48,"y":0.618},{"x":0.49,"y":0.587},{"x":0.5,"y":0.571},{"x":0.51,"y":0.594},{"x":0.52,"y":0.641},{"x":0.53,"y":0.704},{"x":0.54,"y":0.775},{"x":0.55,"y":0.845},{"x":0.56,"y":0.915},{"x":0.57,"y":0.97},{"x":0.58,"y":0.99},{"x":0.6,"y":0.998},{"x":0.62,"y":1.006},{"x":0.64,"y":1.014},{"x":0.66,"y":1.02},{"x":0.68,"y":1.026},{"x":0.7,"y":1.03},{"x":0.72,"y":1.032},{"x":0.74,"y":1.033},{"x":0.76,"y":1.033},{"x":0.78,"y":1.031},{"x":0.8,"y":1.028},{"x":0.82,"y":1.023},{"x":0.84,"y":1.017},{"x":0.86,"y":1.01},{"x":0.88,"y":1.002},{"x":0.9,"y":0.994},{"x":0.91,"y":0.985},{"x":0.92,"y":0.97},{"x":0.928,"y":0.915},{"x":0.936,"y":0.853},{"x":0.944,"y":0.79},{"x":0.952,"y":0.727},{"x":0.96,"y":0.665},{"x":0.968,"y":0.61},{"x":0.976,"y":0.575},{"x":0.984,"y":0.563},{"x":0.992,"y":0.555},{"x":1.0,"y":0.548}],
"d23":[{"x":0,"y":0.9197},{"x":0.005,"y":0.9205},{"x":0.01,"y":0.9225},{"x":0.015,"y":0.9268},{"x":0.02,"y":0.9346},{"x":0.025,"y":0.9472},{"x":0.03,"y":0.9622},{"x":0.035,"y":0.9756},{"x":0.04,"y":0.9843},{"x":0.05,"y":0.9913},{"x":0.06,"y":0.992},{"x":0.08,"y":0.9933},{"x":0.1,"y":0.9946},{"x":0.12,"y":0.996},{"x":0.14,"y":0.9973},{"x":0.16,"y":0.9987},{"x":0.18,"y":1.0},{"x":0.2,"y":1.0013},{"x":0.22,"y":1.0027},{"x":0.24,"y":1.004},{"x":0.26,"y":1.0053},{"x":0.28,"y":1.0066},{"x":0.3,"y":1.008},{"x":0.32,"y":1.0093},{"x":0.34,"y":1.0106},{"x":0.36,"y":1.0119},{"x":0.38,"y":1.0132},{"x":0.4,"y":1.0145},{"x":0.42,"y":1.0155},{"x":0.43,"y":1.016},{"x":0.44,"y":1.0125},{"x":0.445,"y":1.01},{"x":0.45,"y":1.004},{"x":0.455,"y":0.999},{"x":0.46,"y":0.994},{"x":0.465,"y":0.9898},{"x":0.47,"y":0.9893},{"x":0.48,"y":0.989},{"x":0.49,"y":0.9892},{"x":0.5,"y":0.989},{"x":0.51,"y":0.9893},{"x":0.52,"y":0.989},{"x":0.53,"y":0.9895},{"x":0.535,"y":0.992},{"x":0.54,"y":1.002},{"x":0.545,"y":1.009},{"x":0.55,"y":1.015},{"x":0.56,"y":1.0158},{"x":0.58,"y":1.0145},{"x":0.6,"y":1.0132},{"x":0.62,"y":1.0118},{"x":0.64,"y":1.0104},{"x":0.66,"y":1.009},{"x":0.68,"y":1.0076},{"x":0.7,"y":1.0062},{"x":0.72,"y":1.0048},{"x":0.74,"y":1.0034},{"x":0.76,"y":1.002},{"x":0.78,"y":1.0006},{"x":0.8,"y":0.9992},{"x":0.82,"y":0.9978},{"x":0.84,"y":0.9964},{"x":0.86,"y":0.995},{"x":0.88,"y":0.9936},{"x":0.9,"y":0.9922},{"x":0.92,"y":0.991},{"x":0.94,"y":0.99},{"x":0.95,"y":0.9895},{"x":0.955,"y":0.981},{"x":0.96,"y":0.9724},{"x":0.965,"y":0.9614},{"x":0.97,"y":0.9472},{"x":0.975,"y":0.9394},{"x":0.98,"y":0.9283},{"x":0.985,"y":0.9213},{"x":0.99,"y":0.92}],
"d24":[{"x":0,"y":0.9529},{"x":0.005,"y":0.9572},{"x":0.01,"y":0.9639},{"x":0.015,"y":0.9696},{"x":0.02,"y":0.9758},{"x":0.025,"y":0.9816},{"x":0.03,"y":0.9878},{"x":0.035,"y":0.9916},{"x":0.04,"y":0.9935},{"x":0.06,"y":0.9945},{"x":0.08,"y":0.995},{"x":0.1,"y":0.9958},{"x":0.12,"y":0.998},{"x":0.14,"y":1.0},{"x":0.16,"y":1.0015},{"x":0.18,"y":1.0035},{"x":0.2,"y":1.005},{"x":0.22,"y":1.0065},{"x":0.24,"y":1.0075},{"x":0.26,"y":1.0082},{"x":0.27,"y":1.0111},{"x":0.28,"y":1.0085},{"x":0.3,"y":1.0075},{"x":0.32,"y":1.0068},{"x":0.34,"y":1.0074},{"x":0.36,"y":1.0066},{"x":0.38,"y":1.0072},{"x":0.4,"y":1.0064},{"x":0.42,"y":1.0058},{"x":0.43,"y":1.003},{"x":0.44,"y":0.9964},{"x":0.45,"y":0.9935},{"x":0.46,"y":0.992},{"x":0.47,"y":0.9964},{"x":0.48,"y":1.0002},{"x":0.49,"y":1.003},{"x":0.5,"y":1.005},{"x":0.52,"y":1.0052},{"x":0.54,"y":1.0058},{"x":0.56,"y":1.0052},{"x":0.58,"y":1.006},{"x":0.6,"y":1.0069},{"x":0.62,"y":1.0058},{"x":0.64,"y":1.0055},{"x":0.66,"y":1.005},{"x":0.68,"y":1.0048},{"x":0.7,"y":1.0045},{"x":0.72,"y":1.0038},{"x":0.74,"y":1.003},{"x":0.76,"y":1.0022},{"x":0.78,"y":1.0012},{"x":0.8,"y":1.0002},{"x":0.82,"y":0.9995},{"x":0.84,"y":0.9985},{"x":0.86,"y":0.9975},{"x":0.88,"y":0.9965},{"x":0.9,"y":0.9954},{"x":0.92,"y":0.994},{"x":0.93,"y":0.9935},{"x":0.94,"y":0.9915},{"x":0.95,"y":0.9897},{"x":0.955,"y":0.984},{"x":0.96,"y":0.9773},{"x":0.965,"y":0.9687},{"x":0.97,"y":0.962},{"x":0.975,"y":0.9563},{"x":0.98,"y":0.9539}],
"d25":[{"x":0,"y":0.8812},{"x":0.002,"y":0.8967},{"x":0.004,"y":0.9186},{"x":0.006,"y":0.9446},{"x":0.008,"y":0.9695},{"x":0.01,"y":0.985},{"x":0.012,"y":0.9996},{"x":0.02,"y":1.0015},{"x":0.04,"y":0.999},{"x":0.06,"y":1.0012},{"x":0.08,"y":0.9992},{"x":0.1,"y":1.0014},{"x":0.12,"y":0.9988},{"x":0.14,"y":1.001},{"x":0.16,"y":0.999},{"x":0.18,"y":1.0016},{"x":0.2,"y":0.9992},{"x":0.22,"y":1.0012},{"x":0.24,"y":0.9994},{"x":0.26,"y":1.0018},{"x":0.28,"y":0.9996},{"x":0.3,"y":1.0014},{"x":0.32,"y":1.0001},{"x":0.33,"y":1.0035},{"x":0.34,"y":0.9998},{"x":0.36,"y":1.0016},{"x":0.38,"y":0.9995},{"x":0.4,"y":1.0022},{"x":0.42,"y":0.9997},{"x":0.44,"y":1.001},{"x":0.445,"y":0.988},{"x":0.447,"y":0.9695},{"x":0.449,"y":0.9508},{"x":0.451,"y":0.93},{"x":0.453,"y":0.9045},{"x":0.455,"y":0.8843},{"x":0.457,"y":0.911},{"x":0.459,"y":0.9415},{"x":0.461,"y":0.9695},{"x":0.463,"y":0.9923},{"x":0.47,"y":1.0008},{"x":0.49,"y":0.999},{"x":0.51,"y":1.0012},{"x":0.53,"y":0.999},{"x":0.55,"y":1.0013},{"x":0.57,"y":0.9989},{"x":0.59,"y":1.0012},{"x":0.61,"y":0.999},{"x":0.63,"y":1.0013},{"x":0.65,"y":0.9988},{"x":0.67,"y":1.0012},{"x":0.69,"y":0.9991},{"x":0.71,"y":1.0011},{"x":0.73,"y":0.9989},{"x":0.75,"y":1.0012},{"x":0.77,"y":0.999},{"x":0.79,"y":1.001},{"x":0.81,"y":0.9988},{"x":0.83,"y":1.0011},{"x":0.85,"y":0.999},{"x":0.87,"y":1.001},{"x":0.89,"y":0.9988},{"x":0.91,"y":1.0009},{"x":0.93,"y":0.999},{"x":0.95,"y":1.0008},{"x":0.97,"y":0.9988},{"x":0.985,"y":0.9995},{"x":0.988,"y":0.987},{"x":0.99,"y":0.955},{"x":0.992,"y":0.93},{"x":0.994,"y":0.904},{"x":0.996,"y":0.882}],
"d26":[{"x":0,"y":0.8895},{"x":0.005,"y":0.8914},{"x":0.01,"y":0.8989},{"x":0.015,"y":0.9073},{"x":0.02,"y":0.925},{"x":0.025,"y":0.9438},{"x":0.03,"y":0.956},{"x":0.035,"y":0.9747},{"x":0.04,"y":0.9831},{"x":0.045,"y":0.9916},{"x":0.05,"y":0.9955},{"x":0.06,"y":0.9963},{"x":0.08,"y":0.997},{"x":0.1,"y":0.9975},{"x":0.12,"y":0.998},{"x":0.14,"y":0.9986},{"x":0.16,"y":0.999},{"x":0.18,"y":0.9995},{"x":0.2,"y":1.0},{"x":0.22,"y":1.0005},{"x":0.24,"y":1.001},{"x":0.26,"y":1.0015},{"x":0.28,"y":1.002},{"x":0.3,"y":1.0025},{"x":0.32,"y":1.003},{"x":0.34,"y":1.0033},{"x":0.36,"y":1.0036},{"x":0.38,"y":1.004},{"x":0.4,"y":1.0043},{"x":0.42,"y":1.0045},{"x":0.43,"y":1.0035},{"x":0.44,"y":0.9934},{"x":0.45,"y":0.986},{"x":0.46,"y":0.9766},{"x":0.47,"y":0.9691},{"x":0.48,"y":0.9625},{"x":0.49,"y":0.9597},{"x":0.5,"y":0.9597},{"x":0.505,"y":0.9616},{"x":0.51,"y":0.967},{"x":0.52,"y":0.9747},{"x":0.53,"y":0.9822},{"x":0.54,"y":0.9934},{"x":0.55,"y":1.0056},{"x":0.56,"y":1.0052},{"x":0.58,"y":1.005},{"x":0.6,"y":1.0046},{"x":0.62,"y":1.0042},{"x":0.64,"y":1.0038},{"x":0.66,"y":1.0034},{"x":0.68,"y":1.003},{"x":0.7,"y":1.0026},{"x":0.72,"y":1.0022},{"x":0.74,"y":1.0018},{"x":0.76,"y":1.0014},{"x":0.78,"y":1.001},{"x":0.8,"y":1.0005},{"x":0.82,"y":1.0},{"x":0.84,"y":0.9995},{"x":0.86,"y":0.999},{"x":0.88,"y":0.9983},{"x":0.9,"y":0.9977},{"x":0.92,"y":0.997},{"x":0.94,"y":0.9963},{"x":0.95,"y":0.9955},{"x":0.955,"y":0.982},{"x":0.96,"y":0.9663},{"x":0.965,"y":0.9438},{"x":0.97,"y":0.9262},{"x":0.975,"y":0.9073},{"x":0.98,"y":0.896},{"x":0.985,"y":0.8895}],
"d27":[{"x":0,"y":0.673},{"x":0.01,"y":0.685},{"x":0.02,"y":0.707},{"x":0.03,"y":0.755},{"x":0.04,"y":0.803},{"x":0.05,"y":0.845},{"x":0.06,"y":0.879},{"x":0.07,"y":0.905},{"x":0.08,"y":0.927},{"x":0.09,"y":0.945},{"x":0.1,"y":0.961},{"x":0.11,"y":0.973},{"x":0.12,"y":0.985},{"x":0.13,"y":0.995},{"x":0.14,"y":1.005},{"x":0.15,"y":1.015},{"x":0.16,"y":1.024},{"x":0.17,"y":1.032},{"x":0.18,"y":1.04},{"x":0.19,"y":1.048},{"x":0.2,"y":1.055},{"x":0.21,"y":1.062},{"x":0.22,"y":1.068},{"x":0.23,"y":1.073},{"x":0.24,"y":1.092},{"x":0.25,"y":1.08},{"x":0.26,"y":1.086},{"x":0.27,"y":1.084},{"x":0.28,"y":1.078},{"x":0.29,"y":1.07},{"x":0.3,"y":1.064},{"x":0.31,"y":1.055},{"x":0.32,"y":1.045},{"x":0.33,"y":1.033},{"x":0.34,"y":1.021},{"x":0.35,"y":1.009},{"x":0.36,"y":0.997},{"x":0.37,"y":0.985},{"x":0.38,"y":0.972},{"x":0.39,"y":0.96},{"x":0.4,"y":0.947},{"x":0.41,"y":0.934},{"x":0.42,"y":0.92},{"x":0.43,"y":0.906},{"x":0.44,"y":0.892},{"x":0.45,"y":0.879},{"x":0.46,"y":0.863},{"x":0.47,"y":0.847},{"x":0.48,"y":0.831},{"x":0.49,"y":0.812},{"x":0.5,"y":0.793},{"x":0.51,"y":0.82},{"x":0.52,"y":0.845},{"x":0.53,"y":0.868},{"x":0.54,"y":0.89},{"x":0.55,"y":0.913},{"x":0.56,"y":0.935},{"x":0.57,"y":0.953},{"x":0.58,"y":0.967},{"x":0.59,"y":0.975},{"x":0.6,"y":0.981},{"x":0.61,"y":0.993},{"x":0.62,"y":1.005},{"x":0.63,"y":1.016},{"x":0.64,"y":1.026},{"x":0.65,"y":1.036},{"x":0.66,"y":1.045},{"x":0.67,"y":1.052},{"x":0.68,"y":1.058},{"x":0.69,"y":1.063},{"x":0.7,"y":1.067},{"x":0.71,"y":1.072},{"x":0.72,"y":1.078},{"x":0.73,"y":1.085},{"x":0.74,"y":1.076},{"x":0.75,"y":1.078},{"x":0.76,"y":1.07},{"x":0.77,"y":1.06},{"x":0.78,"y":1.048},{"x":0.79,"y":1.039},{"x":0.8,"y":1.03},{"x":0.81,"y":1.02},{"x":0.82,"y":1.01},{"x":0.83,"y":1.0},{"x":0.84,"y":0.99},{"x":0.85,"y":0.981},{"x":0.86,"y":0.972},{"x":0.87,"y":0.963},{"x":0.88,"y":0.955},{"x":0.89,"y":0.947},{"x":0.9,"y":0.94},{"x":0.91,"y":0.934},{"x":0.92,"y":0.927},{"x":0.93,"y":0.905},{"x":0.94,"y":0.885},{"x":0.95,"y":0.845},{"x":0.96,"y":0.797},{"x":0.97,"y":0.749},{"x":0.98,"y":0.707},{"x":0.99,"y":0.68},{"x":1.0,"y":0.67}],
"d28":[{"x":0,"y":0.8596},{"x":0.005,"y":0.862},{"x":0.01,"y":0.866},{"x":0.015,"y":0.881},{"x":0.02,"y":0.9039},{"x":0.025,"y":0.9267},{"x":0.03,"y":0.9519},{"x":0.035,"y":0.9722},{"x":0.04,"y":0.9899},{"x":0.06,"y":0.9937},{"x":0.08,"y":0.996},{"x":0.1,"y":0.9975},{"x":0.12,"y":1.001},{"x":0.14,"y":1.004},{"x":0.16,"y":1.007},{"x":0.18,"y":1.009},{"x":0.2,"y":1.0101},{"x":0.22,"y":1.012},{"x":0.24,"y":1.0127},{"x":0.26,"y":1.0125},{"x":0.28,"y":1.011},{"x":0.3,"y":1.0089},{"x":0.32,"y":1.006},{"x":0.34,"y":1.004},{"x":0.36,"y":1.001},{"x":0.38,"y":0.999},{"x":0.4,"y":0.9975},{"x":0.41,"y":0.994},{"x":0.42,"y":0.9899},{"x":0.43,"y":0.9772},{"x":0.44,"y":0.957},{"x":0.45,"y":0.9418},{"x":0.46,"y":0.9292},{"x":0.47,"y":0.9216},{"x":0.48,"y":0.9205},{"x":0.49,"y":0.9203},{"x":0.5,"y":0.9203},{"x":0.51,"y":0.921},{"x":0.52,"y":0.9228},{"x":0.53,"y":0.9368},{"x":0.54,"y":0.957},{"x":0.55,"y":0.9772},{"x":0.56,"y":0.9949},{"x":0.58,"y":0.9985},{"x":0.6,"y":1.0},{"x":0.62,"y":1.003},{"x":0.64,"y":1.005},{"x":0.66,"y":1.0075},{"x":0.68,"y":1.0095},{"x":0.7,"y":1.0114},{"x":0.72,"y":1.0122},{"x":0.74,"y":1.0127},{"x":0.76,"y":1.0125},{"x":0.78,"y":1.0112},{"x":0.8,"y":1.0089},{"x":0.82,"y":1.0065},{"x":0.84,"y":1.004},{"x":0.86,"y":1.0012},{"x":0.88,"y":0.998},{"x":0.9,"y":0.995},{"x":0.92,"y":0.992},{"x":0.93,"y":0.9899},{"x":0.94,"y":0.9798},{"x":0.95,"y":0.962},{"x":0.955,"y":0.9418},{"x":0.96,"y":0.9165},{"x":0.965,"y":0.8937},{"x":0.97,"y":0.8735},{"x":0.975,"y":0.8608},{"x":0.98,"y":0.857}],
"d29":[{"x":0,"y":0.8052,"e":0.004},{"x":0.004,"y":0.822,"e":0.004},{"x":0.008,"y":0.8388,"e":0.004},{"x":0.012,"y":0.9246,"e":0.004},{"x":0.016,"y":0.975,"e":0.004},{"x":0.02,"y":0.99,"e":0.004},{"x":0.03,"y":1.008,"e":0.004},{"x":0.04,"y":0.995,"e":0.004},{"x":0.05,"y":1.006,"e":0.004},{"x":0.06,"y":0.992,"e":0.004},{"x":0.07,"y":1.004,"e":0.004},{"x":0.08,"y":0.995,"e":0.004},{"x":0.09,"y":1.01,"e":0.004},{"x":0.1,"y":0.993,"e":0.004},{"x":0.11,"y":1.007,"e":0.004},{"x":0.12,"y":0.996,"e":0.004},{"x":0.13,"y":1.012,"e":0.004},{"x":0.14,"y":0.995,"e":0.004},{"x":0.15,"y":1.009,"e":0.004},{"x":0.16,"y":0.997,"e":0.004},{"x":0.17,"y":1.012,"e":0.004},{"x":0.18,"y":0.996,"e":0.004},{"x":0.19,"y":1.01,"e":0.004},{"x":0.2,"y":0.998,"e":0.004},{"x":0.21,"y":1.013,"e":0.004},{"x":0.22,"y":0.999,"e":0.004},{"x":0.23,"y":1.011,"e":0.004},{"x":0.24,"y":0.996,"e":0.004},{"x":0.25,"y":1.014,"e":0.004},{"x":0.26,"y":0.998,"e":0.004},{"x":0.27,"y":1.012,"e":0.004},{"x":0.28,"y":1.0,"e":0.004},{"x":0.29,"y":1.015,"e":0.004},{"x":0.3,"y":0.999,"e":0.004},{"x":0.31,"y":1.013,"e":0.004},{"x":0.32,"y":1.001,"e":0.004},{"x":0.33,"y":1.016,"e":0.004},{"x":0.34,"y":1.0,"e":0.004},{"x":0.35,"y":1.014,"e":0.004},{"x":0.36,"y":1.002,"e":0.004},{"x":0.37,"y":1.015,"e":0.004},{"x":0.38,"y":1.001,"e":0.004},{"x":0.39,"y":1.017,"e":0.004},{"x":0.4,"y":1.003,"e":0.004},{"x":0.41,"y":1.015,"e":0.004},{"x":0.42,"y":1.002,"e":0.004},{"x":0.43,"y":1.018,"e":0.004},{"x":0.44,"y":1.003,"e":0.004},{"x":0.45,"y":1.016,"e":0.004},{"x":0.46,"y":1.005,"e":0.004},{"x":0.47,"y":1.02,"e":0.004},{"x":0.48,"y":0.998,"e":0.004},{"x":0.49,"y":0.9769,"e":0.004},{"x":0.5,"y":0.982,"e":0.004},{"x":0.51,"y":1.016,"e":0.004},{"x":0.52,"y":1.003,"e":0.004},{"x":0.53,"y":1.017,"e":0.004},{"x":0.54,"y":1.0,"e":0.004},{"x":0.55,"y":1.015,"e":0.004},{"x":0.56,"y":1.002,"e":0.004},{"x":0.57,"y":1.014,"e":0.004},{"x":0.58,"y":0.999,"e":0.004},{"x":0.59,"y":1.013,"e":0.004},{"x":0.6,"y":1.0,"e":0.004},{"x":0.61,"y":1.012,"e":0.004},{"x":0.62,"y":0.998,"e":0.004},{"x":0.63,"y":1.011,"e":0.004},{"x":0.64,"y":0.997,"e":0.004},{"x":0.65,"y":1.01,"e":0.004},{"x":0.66,"y":0.998,"e":0.004},{"x":0.67,"y":1.011,"e":0.004},{"x":0.68,"y":0.996,"e":0.004},{"x":0.69,"y":1.009,"e":0.004},{"x":0.7,"y":0.997,"e":0.004},{"x":0.71,"y":1.01,"e":0.004},{"x":0.72,"y":0.995,"e":0.004},{"x":0.73,"y":1.008,"e":0.004},{"x":0.74,"y":0.996,"e":0.004},{"x":0.75,"y":1.009,"e":0.004},{"x":0.76,"y":0.994,"e":0.004},{"x":0.77,"y":1.007,"e":0.004},{"x":0.78,"y":0.995,"e":0.004},{"x":0.79,"y":1.008,"e":0.004},{"x":0.8,"y":0.993,"e":0.004},{"x":0.81,"y":1.006,"e":0.004},{"x":0.82,"y":0.994,"e":0.004},{"x":0.83,"y":1.007,"e":0.004},{"x":0.84,"y":0.993,"e":0.004},{"x":0.85,"y":1.005,"e":0.004},{"x":0.86,"y":0.992,"e":0.004},{"x":0.87,"y":1.006,"e":0.004},{"x":0.88,"y":0.991,"e":0.004},{"x":0.89,"y":1.004,"e":0.004},{"x":0.9,"y":0.992,"e":0.004},{"x":0.91,"y":1.005,"e":0.004},{"x":0.92,"y":0.99,"e":0.004},{"x":0.93,"y":1.004,"e":0.004},{"x":0.94,"y":0.99,"e":0.004},{"x":0.95,"y":0.9825,"e":0.004},{"x":0.955,"y":0.93,"e":0.004},{"x":0.96,"y":0.8668,"e":0.004},{"x":0.965,"y":0.8146,"e":0.004},{"x":0.97,"y":0.8,"e":0.004}],
"d30":[{"x":0,"y":0.6667},{"x":0.005,"y":0.678},{"x":0.01,"y":0.7047},{"x":0.015,"y":0.734},{"x":0.02,"y":0.769},{"x":0.025,"y":0.804},{"x":0.03,"y":0.839},{"x":0.035,"y":0.874},{"x":0.04,"y":0.909},{"x":0.045,"y":0.9386},{"x":0.05,"y":0.968},{"x":0.06,"y":0.991},{"x":0.08,"y":0.997},{"x":0.1,"y":1.003},{"x":0.12,"y":1.01},{"x":0.14,"y":1.016},{"x":0.16,"y":1.021},{"x":0.18,"y":1.025},{"x":0.2,"y":1.027},{"x":0.22,"y":1.029},{"x":0.24,"y":1.028},{"x":0.26,"y":1.026},{"x":0.28,"y":1.022},{"x":0.3,"y":1.02},{"x":0.32,"y":1.015},{"x":0.34,"y":1.011},{"x":0.36,"y":1.007},{"x":0.38,"y":1.002},{"x":0.4,"y":0.997},{"x":0.41,"y":0.99},{"x":0.42,"y":0.98},{"x":0.43,"y":0.944},{"x":0.44,"y":0.898},{"x":0.45,"y":0.851},{"x":0.46,"y":0.792},{"x":0.47,"y":0.734},{"x":0.48,"y":0.705},{"x":0.485,"y":0.7},{"x":0.49,"y":0.699},{"x":0.5,"y":0.705},{"x":0.51,"y":0.746},{"x":0.52,"y":0.792},{"x":0.53,"y":0.851},{"x":0.54,"y":0.909},{"x":0.55,"y":0.956},{"x":0.56,"y":0.985},{"x":0.58,"y":0.993},{"x":0.6,"y":0.997},{"x":0.62,"y":1.003},{"x":0.64,"y":1.009},{"x":0.66,"y":1.014},{"x":0.68,"y":1.018},{"x":0.7,"y":1.02},{"x":0.72,"y":1.024},{"x":0.74,"y":1.026},{"x":0.76,"y":1.025},{"x":0.78,"y":1.022},{"x":0.8,"y":1.018},{"x":0.82,"y":1.014},{"x":0.84,"y":1.01},{"x":0.86,"y":1.006},{"x":0.88,"y":1.004},{"x":0.9,"y":1.003},{"x":0.92,"y":0.999},{"x":0.93,"y":0.997},{"x":0.94,"y":0.956},{"x":0.95,"y":0.903},{"x":0.955,"y":0.851},{"x":0.96,"y":0.804},{"x":0.965,"y":0.763},{"x":0.97,"y":0.722},{"x":0.975,"y":0.693},{"x":0.98,"y":0.672},{"x":0.985,"y":0.664}],
"d31":[{"x":0,"y":0.9383,"e":0.005},{"x":0.005,"y":0.9442,"e":0.005},{"x":0.01,"y":0.942,"e":0.005},{"x":0.015,"y":0.9532,"e":0.005},{"x":0.02,"y":0.9658,"e":0.005},{"x":0.025,"y":0.9695,"e":0.005},{"x":0.03,"y":0.9784,"e":0.005},{"x":0.035,"y":0.9903,"e":0.005},{"x":0.04,"y":0.9993,"e":0.005},{"x":0.05,"y":1.0052,"e":0.005},{"x":0.06,"y":1.002,"e":0.005},{"x":0.07,"y":1.008,"e":0.005},{"x":0.08,"y":1.004,"e":0.005},{"x":0.09,"y":1.011,"e":0.005},{"x":0.1,"y":1.006,"e":0.005},{"x":0.11,"y":1.012,"e":0.005},{"x":0.12,"y":1.005,"e":0.005},{"x":0.13,"y":1.01,"e":0.005},{"x":0.14,"y":1.003,"e":0.005},{"x":0.15,"y":1.011,"e":0.005},{"x":0.16,"y":1.007,"e":0.005},{"x":0.17,"y":1.013,"e":0.005},{"x":0.18,"y":1.004,"e":0.005},{"x":0.19,"y":1.01,"e":0.005},{"x":0.2,"y":1.006,"e":0.005},{"x":0.21,"y":1.012,"e":0.005},{"x":0.22,"y":1.005,"e":0.005},{"x":0.23,"y":1.011,"e":0.005},{"x":0.24,"y":1.008,"e":0.005},{"x":0.25,"y":1.014,"e":0.005},{"x":0.26,"y":1.006,"e":0.005},{"x":0.27,"y":1.012,"e":0.005},{"x":0.28,"y":1.004,"e":0.005},{"x":0.29,"y":1.01,"e":0.005},{"x":0.3,"y":1.003,"e":0.005},{"x":0.31,"y":1.009,"e":0.005},{"x":0.32,"y":1.005,"e":0.005},{"x":0.33,"y":1.011,"e":0.005},{"x":0.34,"y":1.002,"e":0.005},{"x":0.35,"y":1.008,"e":0.005},{"x":0.36,"y":1.004,"e":0.005},{"x":0.37,"y":1.01,"e":0.005},{"x":0.38,"y":1.003,"e":0.005},{"x":0.39,"y":1.007,"e":0.005},{"x":0.4,"y":1.002,"e":0.005},{"x":0.41,"y":1.004,"e":0.005},{"x":0.42,"y":0.999,"e":0.005},{"x":0.43,"y":0.99,"e":0.005},{"x":0.44,"y":0.98,"e":0.005},{"x":0.45,"y":0.9695,"e":0.005},{"x":0.46,"y":0.9576,"e":0.005},{"x":0.47,"y":0.9502,"e":0.005},{"x":0.475,"y":0.957,"e":0.005},{"x":0.48,"y":0.965,"e":0.005},{"x":0.49,"y":0.978,"e":0.005},{"x":0.5,"y":0.992,"e":0.005},{"x":0.51,"y":1.0022,"e":0.005},{"x":0.52,"y":1.008,"e":0.005},{"x":0.53,"y":1.003,"e":0.005},{"x":0.54,"y":1.01,"e":0.005},{"x":0.55,"y":1.004,"e":0.005},{"x":0.56,"y":1.009,"e":0.005},{"x":0.57,"y":1.002,"e":0.005},{"x":0.58,"y":1.008,"e":0.005},{"x":0.59,"y":1.003,"e":0.005},{"x":0.6,"y":1.009,"e":0.005},{"x":0.61,"y":1.004,"e":0.005},{"x":0.62,"y":1.01,"e":0.005},{"x":0.63,"y":1.002,"e":0.005},{"x":0.64,"y":1.008,"e":0.005},{"x":0.65,"y":1.003,"e":0.005},{"x":0.66,"y":1.009,"e":0.005},{"x":0.67,"y":1.001,"e":0.005},{"x":0.68,"y":1.007,"e":0.005},{"x":0.69,"y":1.002,"e":0.005},{"x":0.7,"y":1.008,"e":0.005},{"x":0.71,"y":1.0,"e":0.005},{"x":0.72,"y":1.006,"e":0.005},{"x":0.73,"y":1.001,"e":0.005},{"x":0.74,"y":1.007,"e":0.005},{"x":0.75,"y":0.999,"e":0.005},{"x":0.76,"y":1.005,"e":0.005},{"x":0.77,"y":1.0,"e":0.005},{"x":0.78,"y":1.006,"e":0.005},{"x":0.79,"y":0.998,"e":0.005},{"x":0.8,"y":1.005,"e":0.005},{"x":0.81,"y":0.999,"e":0.005},{"x":0.82,"y":1.004,"e":0.005},{"x":0.83,"y":0.997,"e":0.005},{"x":0.84,"y":1.003,"e":0.005},{"x":0.85,"y":0.998,"e":0.005},{"x":0.86,"y":1.004,"e":0.005},{"x":0.87,"y":0.997,"e":0.005},{"x":0.88,"y":1.002,"e":0.005},{"x":0.89,"y":0.996,"e":0.005},{"x":0.9,"y":1.003,"e":0.005},{"x":0.91,"y":0.996,"e":0.005},{"x":0.92,"y":1.001,"e":0.005},{"x":0.93,"y":0.9978,"e":0.005},{"x":0.94,"y":0.9888,"e":0.005},{"x":0.95,"y":0.978,"e":0.005},{"x":0.96,"y":0.968,"e":0.005},{"x":0.965,"y":0.9591,"e":0.005},{"x":0.97,"y":0.9509,"e":0.005},{"x":0.975,"y":0.9494,"e":0.005},{"x":0.98,"y":0.936,"e":0.005}],
"d32":[{"x":0,"y":0.7103},{"x":0.005,"y":0.728},{"x":0.01,"y":0.749},{"x":0.015,"y":0.774},{"x":0.02,"y":0.8},{"x":0.025,"y":0.826},{"x":0.03,"y":0.856},{"x":0.035,"y":0.892},{"x":0.04,"y":0.928},{"x":0.045,"y":0.959},{"x":0.05,"y":0.979},{"x":0.06,"y":0.987},{"x":0.08,"y":0.992},{"x":0.1,"y":0.995},{"x":0.12,"y":0.999},{"x":0.14,"y":1.003},{"x":0.16,"y":1.008},{"x":0.18,"y":1.014},{"x":0.2,"y":1.0205},{"x":0.22,"y":1.024},{"x":0.24,"y":1.027},{"x":0.26,"y":1.028},{"x":0.28,"y":1.026},{"x":0.3,"y":1.023},{"x":0.32,"y":1.019},{"x":0.34,"y":1.015},{"x":0.36,"y":1.011},{"x":0.38,"y":1.007},{"x":0.4,"y":1.003},{"x":0.41,"y":0.998},{"x":0.42,"y":0.99},{"x":0.43,"y":0.969},{"x":0.44,"y":0.944},{"x":0.45,"y":0.918},{"x":0.46,"y":0.892},{"x":0.47,"y":0.872},{"x":0.48,"y":0.856},{"x":0.49,"y":0.844},{"x":0.5,"y":0.841},{"x":0.51,"y":0.851},{"x":0.52,"y":0.872},{"x":0.53,"y":0.903},{"x":0.54,"y":0.938},{"x":0.55,"y":0.969},{"x":0.56,"y":0.987},{"x":0.58,"y":0.993},{"x":0.6,"y":0.997},{"x":0.62,"y":1.001},{"x":0.64,"y":1.005},{"x":0.66,"y":1.01},{"x":0.68,"y":1.016},{"x":0.7,"y":1.0205},{"x":0.72,"y":1.025},{"x":0.74,"y":1.028},{"x":0.76,"y":1.027},{"x":0.78,"y":1.024},{"x":0.8,"y":1.0205},{"x":0.82,"y":1.016},{"x":0.84,"y":1.012},{"x":0.86,"y":1.007},{"x":0.88,"y":1.002},{"x":0.9,"y":0.997},{"x":0.92,"y":0.988},{"x":0.93,"y":0.979},{"x":0.94,"y":0.944},{"x":0.945,"y":0.92},{"x":0.95,"y":0.903},{"x":0.955,"y":0.867},{"x":0.96,"y":0.831},{"x":0.965,"y":0.795},{"x":0.97,"y":0.764},{"x":0.975,"y":0.738},{"x":0.98,"y":0.723},{"x":0.99,"y":0.71}],
"d33":[{"x":0,"y":0.6237},{"x":0.008,"y":0.6633},{"x":0.016,"y":0.7209},{"x":0.024,"y":0.7784},{"x":0.032,"y":0.8432},{"x":0.04,"y":0.8935},{"x":0.05,"y":0.9367},{"x":0.06,"y":0.948},{"x":0.08,"y":0.96},{"x":0.1,"y":0.9727},{"x":0.12,"y":0.988},{"x":0.14,"y":1.004},{"x":0.16,"y":1.0185},{"x":0.18,"y":1.032},{"x":0.2,"y":1.0446},{"x":0.22,"y":1.055},{"x":0.24,"y":1.063},{"x":0.26,"y":1.068},{"x":0.28,"y":1.07},{"x":0.3,"y":1.0626},{"x":0.32,"y":1.05},{"x":0.34,"y":1.038},{"x":0.36,"y":1.023},{"x":0.38,"y":1.009},{"x":0.4,"y":0.9942},{"x":0.42,"y":0.977},{"x":0.44,"y":0.96},{"x":0.46,"y":0.935},{"x":0.48,"y":0.9079},{"x":0.49,"y":0.888},{"x":0.5,"y":0.8683},{"x":0.51,"y":0.895},{"x":0.52,"y":0.9223},{"x":0.54,"y":0.955},{"x":0.56,"y":0.982},{"x":0.58,"y":0.994},{"x":0.6,"y":1.005},{"x":0.62,"y":1.018},{"x":0.64,"y":1.031},{"x":0.66,"y":1.042},{"x":0.68,"y":1.051},{"x":0.7,"y":1.0554},{"x":0.72,"y":1.059},{"x":0.74,"y":1.053},{"x":0.76,"y":1.043},{"x":0.78,"y":1.027},{"x":0.8,"y":1.0086},{"x":0.82,"y":0.992},{"x":0.84,"y":0.974},{"x":0.86,"y":0.957},{"x":0.88,"y":0.94},{"x":0.9,"y":0.9223},{"x":0.91,"y":0.912},{"x":0.92,"y":0.9007},{"x":0.93,"y":0.872},{"x":0.94,"y":0.8288},{"x":0.95,"y":0.7784},{"x":0.96,"y":0.728},{"x":0.97,"y":0.6849},{"x":0.98,"y":0.649},{"x":0.99,"y":0.6273}]
},
"vconcat":[{
"title":{"text":"Normalize SAP Flux","orient":"left","anchor":"middle","fontSize":16,"fontWeight":"bold","fontStyle":"italic","offset":-17,"baseline":"bottom","dx":-20},
"columns":5,
"spacing":{"row":62,"column":79},
"bounds":"flush",
"concat":[
{"title":{"text":"λ Sco","offset":-1.5},"data":{"name":"d1"},"encoding":{"x":{"field":"x","type":"quantitative","scale":{"domain":[-0.05,1.05]},"axis":{"values":[0,0.5,1],"format":".1f","title":null}},"y":{"field":"y","type":"quantitative","scale":{"domain":[0.99499,1.00232]},"axis":{"values":[0.996,0.998,1,1.002],"format":".3f","title":null}}},"layer":[{"mark":"line"},{"mark":"errorbar","encoding":{"yError":{"field":"e"}}},{"mark":"point"}]},
{"title":{"text":"BD+44 3664","offset":-3},"data":{"name":"d2"},"encoding":{"x":{"field":"x","type":"quantitative","scale":{"domain":[-0.05,1.05]},"axis":{"values":[0,0.5,1],"format":".1f","title":null}},"y":{"field":"y","type":"quantitative","scale":{"domain":[0.7694,1.1049]},"axis":{"values":[0.8,0.85,0.9,0.95,1,1.05,1.1],"format":".2f","title":null}}},"layer":[{"mark":"line"},{"mark":"point"}]},
{"title":"CD-38 4128","data":{"name":"d3"},"encoding":{"x":{"field":"x","type":"quantitative","scale":{"domain":[-0.05,1.05]},"axis":{"values":[0,0.5,1],"format":".1f","title":null}},"y":{"field":"y","type":"quantitative","scale":{"domain":[0.9704,1.0084]},"axis":{"values":[0.98,0.99,1],"format":".2f","title":null}}},"layer":[{"mark":"line"},{"mark":"errorbar","encoding":{"yError":{"field":"e"}}},{"mark":"point"}]},
{"title":"CD-51 9984","data":{"name":"d4"},"encoding":{"x":{"field":"x","type":"quantitative","scale":{"domain":[-0.05,1.05]},"axis":{"values":[0,0.5,1],"format":".1f","title":null}},"y":{"field":"y","type":"quantitative","scale":{"domain":[0.9386,1.0269]},"axis":{"values":[0.94,0.96,0.98,1,1.02],"format":".2f","title":null}}},"layer":[{"mark":"line"},{"mark":"errorbar","encoding":{"yError":{"field":"e"}}},{"mark":"point"}]},
{"title":"CPD-41 7746","data":{"name":"d5"},"encoding":{"x":{"field":"x","type":"quantitative","scale":{"domain":[-0.05,1.05]},"axis":{"values":[0,0.5,1],"format":".1f","title":null}},"y":{"field":"y","type":"quantitative","scale":{"domain":[0.8281,1.0166]},"axis":{"values":[0.85,0.9,0.95,1],"format":".2f","title":null}}},"layer":[{"mark":"line"},{"mark":"point"}]},
{"title":{"text":"CPD-45 3109","offset":0},"data":{"name":"d6"},"encoding":{"x":{"field":"x","type":"quantitative","scale":{"domain":[-0.05,1.05]},"axis":{"values":[0,0.5,1],"format":".1f","title":null}},"y":{"field":"y","type":"quantitative","scale":{"domain":[0.9209,1.023]},"axis":{"values":[0.94,0.96,0.98,1,1.02],"format":".2f","title":null}}},"layer":[{"mark":"line"},{"mark":"point"}]},
{"title":"CZ Vel","data":{"name":"d7"},"encoding":{"x":{"field":"x","type":"quantitative","scale":{"domain":[-0.05,1.05]},"axis":{"values":[0,0.5,1],"format":".1f","title":null}},"y":{"field":"y","type":"quantitative","scale":{"domain":[0.5,1.0975]},"axis":{"values":[0.5,0.6,0.7,0.8,0.9,1],"format":".1f","title":null}}},"layer":[{"mark":"line"},{"mark":"point"}]},
{"title":"EK Cru","data":{"name":"d8"},"encoding":{"x":{"field":"x","type":"quantitative","scale":{"domain":[-0.05,1.05]},"axis":{"values":[0,0.5,1],"format":".1f","title":null}},"y":{"field":"y","type":"quantitative","scale":{"domain":[0.9361,1.0248]},"axis":{"values":[0.94,0.96,0.98,1,1.02],"format":".2f","title":null}}},"layer":[{"mark":"line"},{"mark":"point"}]},
{"title":"EO Aur","data":{"name":"d9"},"encoding":{"x":{"field":"x","type":"quantitative","scale":{"domain":[-0.05,1.05]},"axis":{"values":[0,0.5,1],"format":".1f","title":null}},"y":{"field":"y","type":"quantitative","scale":{"domain":[0.6117,1.0807]},"axis":{"values":[0.7,0.8,0.9,1],"format":".1f","title":null}}},"layer":[{"mark":"line"},{"mark":"point"}]},
{"title":"HD 108628","data":{"name":"d10"},"encoding":{"x":{"field":"x","type":"quantitative","scale":{"domain":[-0.05,1.05]},"axis":{"values":[0,0.5,1],"format":".1f","title":null}},"y":{"field":"y","type":"quantitative","scale":{"domain":[0.9857,1.0042]},"axis":{"values":[0.99,0.995,1],"format":".3f","title":null}}},"layer":[{"mark":"line"},{"mark":"errorbar","encoding":{"yError":{"field":"e"}}},{"mark":"point"}]},
{"title":"HD 112485","data":{"name":"d11"},"encoding":{"x":{"field":"x","type":"quantitative","scale":{"domain":[-0.05,1.05]},"axis":{"values":[0,0.5,1],"format":".1f","title":null}},"y":{"field":"y","type":"quantitative","scale":{"domain":[0.9352,1.008]},"axis":{"values":[0.94,0.96,0.98,1],"format":".2f","title":null}}},"layer":[{"mark":"line"},{"mark":"point"}]},
{"title":"HD 151791","data":{"name":"d12"},"encoding":{"x":{"field":"x","type":"quantitative","scale":{"domain":[-0.05,1.05]},"axis":{"values":[0,0.5,1],"format":".1f","title":null}},"y":{"field":"y","type":"quantitative","scale":{"domain":[0.8368,1.0281]},"axis":{"values":[0.85,0.9,0.95,1],"format":".2f","title":null}}},"layer":[{"mark":"line"},{"mark":"point"}]},
{"title":"HD 152268","data":{"name":"d13"},"encoding":{"x":{"field":"x","type":"quantitative","scale":{"domain":[-0.05,1.05]},"axis":{"values":[0,0.5,1],"format":".1f","title":null}},"y":{"field":"y","type":"quantitative","scale":{"domain":[0.9496,1.0095]},"axis":{"values":[0.95,0.96,0.97,0.98,0.99,1],"format":".2f","title":null}}},"layer":[{"mark":"line"},{"mark":"point"}]},
{"title":"HD 157400","data":{"name":"d14"},"encoding":{"x":{"field":"x","type":"quantitative","scale":{"domain":[-0.05,1.05]},"axis":{"values":[0,0.5,1],"format":".1f","title":null}},"y":{"field":"y","type":"quantitative","scale":{"domain":[0.7524,1.0175]},"axis":{"values":[0.8,0.85,0.9,0.95,1],"format":".2f","title":null}}},"layer":[{"mark":"line"},{"mark":"point"}]},
{"title":"HD 227877","data":{"name":"d15"},"encoding":{"x":{"field":"x","type":"quantitative","scale":{"domain":[-0.05,1.05]},"axis":{"values":[0,0.5,1],"format":".1f","title":null}},"y":{"field":"y","type":"quantitative","scale":{"domain":[0.6833,1.0268]},"axis":{"values":[0.7,0.75,0.8,0.85,0.9,0.95,1],"format":".2f","title":null}}},"layer":[{"mark":"line"},{"mark":"point"}]},
{"title":"HD 254346","data":{"name":"d16"},"encoding":{"x":{"field":"x","type":"quantitative","scale":{"domain":[-0.05,1.05]},"axis":{"values":[0,0.5,1],"format":".1f","title":null}},"y":{"field":"y","type":"quantitative","scale":{"domain":[0.98455,1.00264]},"axis":{"values":[0.985,0.99,0.995,1],"format":".3f","title":null}}},"layer":[{"mark":"line"},{"mark":"point"}]},
{"title":"HD 303115","data":{"name":"d17"},"encoding":{"x":{"field":"x","type":"quantitative","scale":{"domain":[-0.05,1.05]},"axis":{"values":[0,0.5,1],"format":".1f","title":null}},"y":{"field":"y","type":"quantitative","scale":{"domain":[0.9691,1.0055]},"axis":{"values":[0.97,0.98,0.99,1],"format":".2f","title":null}}},"layer":[{"mark":"line"},{"mark":"point"}]},
{"title":"HD 329379","data":{"name":"d18"},"encoding":{"x":{"field":"x","type":"quantitative","scale":{"domain":[-0.05,1.05]},"axis":{"values":[0,0.5,1],"format":".1f","title":null}},"y":{"field":"y","type":"quantitative","scale":{"domain":[0.9355,1.0372]},"axis":{"values":[0.94,0.96,0.98,1,1.02],"format":".2f","title":null}}},"layer":[{"mark":"line"},{"mark":"point"}]},
{"title":"HD 339003","data":{"name":"d19"},"encoding":{"x":{"field":"x","type":"quantitative","scale":{"domain":[-0.05,1.05]},"axis":{"values":[0,0.5,1],"format":".1f","title":null}},"y":{"field":"y","type":"quantitative","scale":{"domain":[0.9245,1.0258]},"axis":{"values":[0.94,0.96,0.98,1,1.02],"format":".2f","title":null}}},"layer":[{"mark":"line"},{"mark":"errorbar","encoding":{"yError":{"field":"e"}}},{"mark":"point"}]},
{"title":"HD 92024","data":{"name":"d20"},"encoding":{"x":{"field":"x","type":"quantitative","scale":{"domain":[-0.05,1.05]},"axis":{"values":[0,0.5,1],"format":".1f","title":null}},"y":{"field":"y","type":"quantitative","scale":{"domain":[0.9126,1.0155]},"axis":{"values":[0.92,0.94,0.96,0.98,1],"format":".2f","title":null}}},"layer":[{"mark":"line"},{"mark":"errorbar","encoding":{"yError":{"field":"e"}}},{"mark":"point"}]},
{"title":{"text":"HD 96355","offset":0},"data":{"name":"d21"},"encoding":{"x":{"field":"x","type":"quantitative","scale":{"domain":[-0.05,1.05]},"axis":{"values":[0,0.5,1],"format":".1f","title":null}},"y":{"field":"y","type":"quantitative","scale":{"domain":[0.9732,1.006]},"axis":{"values":[0.975,0.98,0.985,0.99,0.995,1,1.005],"format":".3f","title":null}}},"layer":[{"mark":"line"},{"mark":"errorbar","encoding":{"yError":{"field":"e"}}},{"mark":"point"}]},
{"title":"LR Ara","data":{"name":"d22"},"encoding":{"x":{"field":"x","type":"quantitative","scale":{"domain":[-0.05,1.05]},"axis":{"values":[0,0.5,1],"format":".1f","title":null}},"y":{"field":"y","type":"quantitative","scale":{"domain":[0.5256,1.0579]},"axis":{"values":[0.6,0.7,0.8,0.9,1],"format":".1f","title":null}}},"layer":[{"mark":"line"},{"mark":"point"}]},
{"title":{"text":"LS I +61 145","offset":-4},"data":{"name":"d23"},"encoding":{"x":{"field":"x","type":"quantitative","scale":{"domain":[-0.05,1.05]},"axis":{"values":[0,0.5,1],"format":".1f","title":null}},"y":{"field":"y","type":"quantitative","scale":{"domain":[0.9145,1.0216]},"axis":{"values":[0.92,0.94,0.96,0.98,1,1.02],"format":".2f","title":null}}},"layer":[{"mark":"line"},{"mark":"point"}]},
{"title":"TYC 3699-160-1","data":{"name":"d24"},"encoding":{"x":{"field":"x","type":"quantitative","scale":{"domain":[-0.05,1.05]},"axis":{"values":[0,0.5,1],"format":".1f","title":null}},"y":{"field":"y","type":"quantitative","scale":{"domain":[0.9498,1.0147]},"axis":{"values":[0.95,0.96,0.97,0.98,0.99,1,1.01],"format":".2f","title":null}}},"layer":[{"mark":"line"},{"mark":"point"}]},
{"title":"TYC 4050-2830-1","data":{"name":"d25"},"encoding":{"x":{"field":"x","type":"quantitative","scale":{"domain":[-0.05,1.05]},"axis":{"values":[0,0.5,1],"format":".1f","title":null}},"y":{"field":"y","type":"quantitative","scale":{"domain":[0.8723,1.0135]},"axis":{"values":[0.875,0.9,0.925,0.95,0.975,1],"format":".3f","title":null}}},"layer":[{"mark":"line"},{"mark":"point"}]},
{"title":"V1061 Cen","data":{"name":"d26"},"encoding":{"x":{"field":"x","type":"quantitative","scale":{"domain":[-0.05,1.05]},"axis":{"values":[0,0.5,1],"format":".1f","title":null}},"y":{"field":"y","type":"quantitative","scale":{"domain":[0.8837,1.011]},"axis":{"values":[0.9,0.92,0.94,0.96,0.98,1],"format":".2f","title":null}}},"layer":[{"mark":"line"},{"mark":"point"}]},
{"title":"V1216 Sco","data":{"name":"d27"},"encoding":{"x":{"field":"x","type":"quantitative","scale":{"domain":[-0.05,1.05]},"axis":{"values":[0,0.5,1],"format":".1f","title":null}},"y":{"field":"y","type":"quantitative","scale":{"domain":[0.6485,1.1151]},"axis":{"values":[0.7,0.8,0.9,1,1.1],"format":".1f","title":null}}},"layer":[{"mark":"line"},{"mark":"point"}]},
{"title":"V2107 Cyg","data":{"name":"d28"},"encoding":{"x":{"field":"x","type":"quantitative","scale":{"domain":[-0.05,1.05]},"axis":{"values":[0,0.5,1],"format":".1f","title":null}},"y":{"field":"y","type":"quantitative","scale":{"domain":[0.8492,1.0213]},"axis":{"values":[0.85,0.875,0.9,0.925,0.95,0.975,1],"format":".3f","title":null}}},"layer":[{"mark":"line"},{"mark":"point"}]},
{"title":"V4386 sgr","data":{"name":"d29"},"encoding":{"x":{"field":"x","type":"quantitative","scale":{"domain":[-0.05,1.05]},"axis":{"values":[0,0.5,1],"format":".1f","title":null}},"y":{"field":"y","type":"quantitative","scale":{"domain":[0.7825,1.0362]},"axis":{"values":[0.8,0.85,0.9,0.95,1],"format":".2f","title":null}}},"layer":[{"mark":"line"},{"mark":"errorbar","encoding":{"yError":{"field":"e"}}},{"mark":"point"}]},
{"title":"V453 Cyg","data":{"name":"d30"},"encoding":{"x":{"field":"x","type":"quantitative","scale":{"domain":[-0.05,1.05]},"axis":{"values":[0,0.5,1],"format":".1f","title":null}},"y":{"field":"y","type":"quantitative","scale":{"domain":[0.6485,1.0462]},"axis":{"values":[0.7,0.8,0.9,1],"format":".1f","title":null}}},"layer":[{"mark":"line"},{"mark":"point"}]},
{"title":"V916 Cen","data":{"name":"d31"},"encoding":{"x":{"field":"x","type":"quantitative","scale":{"domain":[-0.05,1.05]},"axis":{"values":[0,0.5,1],"format":".1f","title":null}},"y":{"field":"y","type":"quantitative","scale":{"domain":[0.9256,1.027]},"axis":{"values":[0.94,0.96,0.98,1,1.02],"format":".2f","title":null}}},"layer":[{"mark":"line"},{"mark":"errorbar","encoding":{"yError":{"field":"e"}}},{"mark":"point"}]},
{"title":"VV Ori","data":{"name":"d32"},"encoding":{"x":{"field":"x","type":"quantitative","scale":{"domain":[-0.05,1.05]},"axis":{"values":[0,0.5,1],"format":".1f","title":null}},"y":{"field":"y","type":"quantitative","scale":{"domain":[0.6949,1.0446]},"axis":{"values":[0.7,0.8,0.9,1],"format":".1f","title":null}}},"layer":[{"mark":"line"},{"mark":"point"}]},
{"title":"VZ Cen","data":{"name":"d33"},"encoding":{"x":{"field":"x","type":"quantitative","scale":{"domain":[-0.05,1.05]},"axis":{"values":[0,0.5,1],"format":".1f","title":null}},"y":{"field":"y","type":"quantitative","scale":{"domain":[0.6022,1.0928]},"axis":{"values":[0.7,0.8,0.9,1],"format":".1f","title":null}}},"layer":[{"mark":"line"},{"mark":"point"}]}
]
}]
}
